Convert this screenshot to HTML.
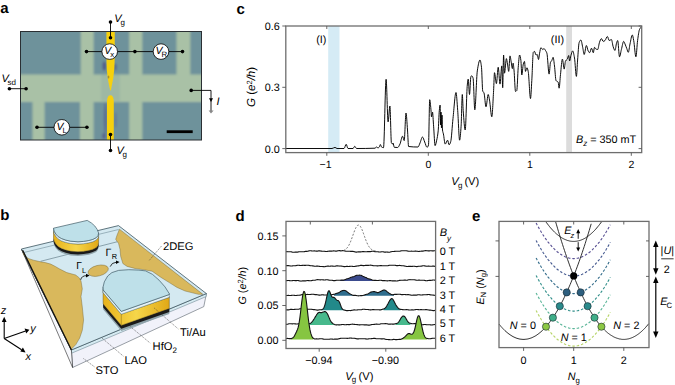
<!DOCTYPE html><html><head><meta charset="utf-8"><style>html,body{margin:0;padding:0;background:#fff;width:675px;height:385px;overflow:hidden}svg{display:block}text{font-family:"Liberation Sans",sans-serif;text-rendering:geometricPrecision}</style></head><body>
<svg width="675" height="385" viewBox="0 0 675 385">
<defs><filter id="bl" x="-5%" y="-5%" width="110%" height="110%"><feGaussianBlur stdDeviation="0.9"/></filter><filter id="bl2" x="-20%" y="-5%" width="140%" height="110%"><feGaussianBlur stdDeviation="0.45"/></filter><clipPath id="aclip"><rect x="20.5" y="31.5" width="181" height="108.5"/></clipPath><marker id="ah" viewBox="0 0 10 10" refX="8" refY="5" markerWidth="5" markerHeight="5" orient="auto"><path d="M0,0L10,5L0,10z" fill="#000"/></marker></defs>
<text x="0.2" y="13.3" font-size="15" font-weight="bold">a</text>
<g clip-path="url(#aclip)"><g filter="url(#bl)">
<rect x="15" y="25" width="195" height="120" fill="#6e929b"/>
<rect x="15" y="74.5" width="195" height="27.5" fill="#a9c1a6"/>
<rect x="80.8" y="25" width="12.799999999999997" height="52" fill="#a9c1a6"/>
<rect x="129.2" y="25" width="13.100000000000023" height="52" fill="#a9c1a6"/>
<rect x="176.5" y="25" width="13.800000000000011" height="52" fill="#a9c1a6"/>
<rect x="32.5" y="100" width="12.100000000000001" height="45" fill="#a9c1a6"/>
<rect x="80" y="100" width="13.599999999999994" height="45" fill="#a9c1a6"/>
<rect x="129.2" y="100" width="13.100000000000023" height="45" fill="#a9c1a6"/>
<ellipse cx="104.3" cy="66" rx="1.8" ry="4.5" fill="#4f4f86" opacity="0.85"/>
<ellipse cx="115.3" cy="67" rx="1.5" ry="3.5" fill="#4f4f86" opacity="0.6"/>
<ellipse cx="105.3" cy="118" rx="1.6" ry="16" fill="#4f4f86" opacity="0.55"/>
<ellipse cx="104" cy="136" rx="1.8" ry="3" fill="#4f4f86" opacity="0.7"/>
<ellipse cx="115.6" cy="120" rx="1.2" ry="8" fill="#4f4f86" opacity="0.35"/>
<ellipse cx="109" cy="62" rx="5" ry="3" fill="#4f4f86" opacity="0.0"/>
<rect x="101" y="74" width="19" height="27" fill="#7f9ea0" opacity="0.25"/>
</g><g filter="url(#bl2)">
<path d="M106.4,30 L114.8,30 L114.6,62 L114.2,70 L113.3,78 L111.9,85 L110.9,90.5 L110.2,90.5 L109,85 L107.7,78 L106.8,70 L106.5,62 Z" fill="#f6d010"/>
<path d="M107,141 L113.8,141 L113.8,101 Q113.4,95.3 110.4,95.3 Q107.4,95.3 107,101 Z" fill="#f6d010"/>
<ellipse cx="108.5" cy="77" rx="0.9" ry="1.6" fill="#7a6a40" opacity="0.6"/>
</g></g>
<rect x="20.5" y="31.5" width="181" height="108.5" fill="none" stroke="#2a2f33" stroke-width="1"/>
<rect x="166.7" y="130.3" width="26" height="2.8" fill="#000"/>
<g stroke="#000" stroke-width="0.9" fill="none">
<line x1="110.5" y1="22.1" x2="110.5" y2="37.8"/>
<line x1="110.5" y1="134.6" x2="110.5" y2="150.5"/>
<line x1="86.5" y1="51.6" x2="182.5" y2="51.6"/>
<line x1="37" y1="127.3" x2="86.9" y2="127.3"/>
<line x1="9.4" y1="88.7" x2="26.1" y2="88.7"/>
<polyline points="191.2,90.4 211,90.4 211,111"/>
</g>
<circle cx="110.5" cy="22.1" r="1.8" fill="#000"/>
<circle cx="110.5" cy="37.8" r="1.8" fill="#000"/>
<circle cx="110.5" cy="134.6" r="1.8" fill="#000"/>
<circle cx="110.5" cy="150.5" r="1.8" fill="#000"/>
<circle cx="86.5" cy="51.6" r="1.8" fill="#000"/>
<circle cx="134.9" cy="51.6" r="1.8" fill="#000"/>
<circle cx="182.5" cy="51.6" r="1.8" fill="#000"/>
<circle cx="37" cy="127.3" r="1.8" fill="#000"/>
<circle cx="86.9" cy="127.3" r="1.8" fill="#000"/>
<circle cx="9.4" cy="88.7" r="1.8" fill="#000"/>
<circle cx="26.1" cy="88.7" r="1.8" fill="#000"/>
<circle cx="191.2" cy="90.4" r="1.8" fill="#000"/>
<path d="M209,98.2 L213,98.2 L211,101.9 Z" fill="#000"/>
<path d="M208.6,110.6 L213.6,110.6 L211,113.5 Z" fill="#888"/>
<circle cx="109.7" cy="51.6" r="7.8" fill="#fff" stroke="#000" stroke-width="0.8"/>
<text x="104.3" y="54.300000000000004" font-size="10.5" font-style="italic">V</text>
<text x="110.3" y="57.2" font-size="7.8">x</text>
<circle cx="161" cy="51.6" r="7.8" fill="#fff" stroke="#000" stroke-width="0.8"/>
<text x="155.6" y="54.300000000000004" font-size="10.5" font-style="italic">V</text>
<text x="161.6" y="57.2" font-size="7.8">R</text>
<circle cx="61.8" cy="127.3" r="7.8" fill="#fff" stroke="#000" stroke-width="0.8"/>
<text x="56.4" y="130.0" font-size="10.5" font-style="italic">V</text>
<text x="62.4" y="132.9" font-size="7.8">L</text>
<text x="114.3" y="21.8" font-size="11" font-style="italic">V</text><text x="120.5" y="24.6" font-size="8">g</text>
<text x="116.4" y="154.2" font-size="11" font-style="italic">V</text><text x="122.60000000000001" y="157.0" font-size="8">g</text>
<text x="1.6" y="81.7" font-size="11" font-style="italic">V</text><text x="7.4" y="84.7" font-size="8">sd</text>
<text x="216.5" y="105" font-size="11" font-style="italic">I</text>
<text x="236.5" y="13.5" font-size="15" font-weight="bold">c</text>
<rect x="328.2" y="26" width="11.3" height="126" fill="#d5ebf5"/>
<rect x="566.2" y="26" width="5.8" height="126" fill="#dcdcdc"/>
<path d="M286.00,148.50 C301.33,148.50 316.67,148.50 332.00,148.50 C333.00,148.50 334.00,147.40 335.00,147.40 C335.67,147.40 336.33,148.50 337.00,148.50 C339.33,148.50 341.67,148.50 344.00,148.50 C344.73,148.50 345.47,144.30 346.20,144.30 C346.80,144.30 347.40,148.50 348.00,148.50 C349.67,148.50 351.33,148.50 353.00,148.50 C353.60,148.50 354.20,146.30 354.80,146.30 C355.37,146.30 355.93,148.50 356.50,148.50 C362.67,148.50 368.83,148.47 375.00,148.20 C375.53,148.18 376.07,147.00 376.60,147.00 C377.07,147.00 377.53,148.00 378.00,148.00 C378.50,148.00 379.00,147.21 379.50,146.50 C379.80,146.07 380.10,144.50 380.40,144.50 C380.77,144.50 381.13,146.76 381.50,147.00 C382.17,147.44 382.83,147.70 383.50,147.70 C384.37,147.70 385.23,79.30 386.10,79.30 C386.77,79.30 387.43,121.90 388.10,121.90 C388.70,121.90 389.30,106.00 389.90,106.00 C390.40,106.00 390.90,141.80 391.40,142.80 C391.77,143.53 392.13,144.00 392.50,144.00 C392.67,144.00 392.83,143.00 393.00,143.00 C393.43,143.00 393.87,147.24 394.30,147.30 C395.40,147.45 396.50,147.50 397.60,147.50 C398.40,147.50 399.20,145.59 400.00,144.00 C400.83,142.35 401.67,136.20 402.50,136.20 C403.07,136.20 403.63,140.60 404.20,140.60 C404.80,140.60 405.40,113.00 406.00,113.00 C406.50,113.00 407.00,123.50 407.50,130.00 C407.87,134.77 408.23,146.45 408.60,146.50 C411.73,146.95 414.87,147.00 418.00,147.00 C418.67,147.00 419.33,144.45 420.00,143.00 C420.83,141.19 421.67,137.00 422.50,137.00 C423.23,137.00 423.97,140.32 424.70,142.00 C425.47,143.75 426.23,147.30 427.00,147.30 C427.50,147.30 428.00,146.53 428.50,145.00 C428.90,143.78 429.30,99.70 429.70,99.70 C430.10,99.70 430.50,105.00 430.90,109.00 C431.10,111.00 431.30,116.80 431.50,116.80 C431.83,116.80 432.17,112.10 432.50,112.10 C432.87,112.10 433.23,121.48 433.60,126.20 C434.10,132.64 434.60,145.60 435.10,145.60 C435.63,145.60 436.17,142.55 436.70,140.20 C437.20,138.00 437.70,135.59 438.20,130.80 C438.57,127.29 438.93,114.18 439.30,110.60 C439.57,107.99 439.83,105.10 440.10,105.10 C440.27,105.10 440.43,125.00 440.60,125.00 C440.73,125.00 440.87,112.00 441.00,112.00 C441.17,112.00 441.33,128.00 441.50,128.00 C441.67,128.00 441.83,115.00 442.00,115.00 C442.17,115.00 442.33,128.64 442.50,130.00 C442.80,132.45 443.10,132.45 443.40,133.90 C444.00,136.80 444.60,144.10 445.20,144.10 C446.00,144.10 446.80,140.20 447.60,140.20 C448.10,140.20 448.60,144.80 449.10,144.80 C449.63,144.80 450.17,143.37 450.70,141.70 C451.47,139.30 452.23,125.57 453.00,118.40 C454.00,109.04 455.00,92.50 456.00,92.50 C456.57,92.50 457.13,103.46 457.70,110.60 C458.33,118.58 458.97,140.20 459.60,140.20 C460.10,140.20 460.60,133.22 461.10,126.20 C461.50,120.58 461.90,94.50 462.30,94.50 C462.60,94.50 462.90,106.68 463.20,110.60 C463.87,119.31 464.53,130.00 465.20,130.00 C465.90,130.00 466.60,91.56 467.30,85.00 C467.60,82.19 467.90,79.10 468.20,79.10 C468.63,79.10 469.07,94.50 469.50,94.50 C469.97,94.50 470.43,76.87 470.90,76.40 C471.20,76.10 471.50,75.90 471.80,75.90 C472.23,75.90 472.67,76.85 473.10,78.20 C473.67,79.97 474.23,109.80 474.80,109.80 C475.63,109.80 476.47,76.28 477.30,70.90 C478.20,65.09 479.10,60.00 480.00,60.00 C480.50,60.00 481.00,63.31 481.50,67.30 C481.90,70.49 482.30,89.69 482.70,90.90 C483.13,92.21 483.57,91.91 484.00,93.00 C484.67,94.67 485.33,106.80 486.00,106.80 C486.73,106.80 487.47,94.50 488.20,94.50 C488.63,94.50 489.07,97.73 489.50,100.00 C490.27,104.01 491.03,116.80 491.80,116.80 C492.40,116.80 493.00,100.75 493.60,90.50 C493.90,85.37 494.20,72.70 494.50,72.70 C495.13,72.70 495.77,83.60 496.40,83.60 C497.00,83.60 497.60,67.30 498.20,67.30 C498.80,67.30 499.40,84.10 500.00,84.10 C500.60,84.10 501.20,65.90 501.80,65.90 C502.10,65.90 502.40,87.70 502.70,87.70 C503.00,87.70 503.30,55.00 503.60,55.00 C503.90,55.00 504.20,73.20 504.50,73.20 C505.13,73.20 505.77,58.60 506.40,58.60 C506.77,58.60 507.13,62.00 507.50,64.00 C507.90,66.18 508.30,71.40 508.70,71.40 C509.13,71.40 509.57,55.90 510.00,55.90 C510.40,55.90 510.80,59.89 511.20,62.00 C511.60,64.11 512.00,68.60 512.40,68.60 C512.63,68.60 512.87,63.20 513.10,63.20 C513.40,63.20 513.70,67.11 514.00,70.00 C514.50,74.82 515.00,91.40 515.50,91.40 C515.93,91.40 516.37,91.07 516.80,90.50 C517.27,89.89 517.73,73.14 518.20,67.70 C518.67,62.26 519.13,55.00 519.60,55.00 C520.03,55.00 520.47,57.49 520.90,60.50 C521.20,62.58 521.50,75.00 521.80,75.00 C522.30,75.00 522.80,65.79 523.30,64.10 C523.70,62.75 524.10,61.40 524.50,61.40 C524.83,61.40 525.17,71.40 525.50,71.40 C525.97,71.40 526.43,67.70 526.90,67.70 C527.33,67.70 527.77,69.52 528.20,71.40 C528.97,74.73 529.73,98.60 530.50,98.60 C530.93,98.60 531.37,87.41 531.80,80.50 C532.30,72.53 532.80,53.00 533.30,52.30 C533.70,51.74 534.10,51.40 534.50,51.40 C535.00,51.40 535.50,55.00 536.00,55.00 C536.43,55.00 536.87,54.60 537.30,54.60 C537.70,54.60 538.10,59.50 538.50,59.50 C538.87,59.50 539.23,54.99 539.60,53.20 C540.03,51.08 540.47,47.70 540.90,47.70 C541.50,47.70 542.10,49.50 542.70,49.50 C543.13,49.50 543.57,48.60 544.00,48.60 C544.50,48.60 545.00,49.73 545.50,50.50 C545.97,51.22 546.43,51.77 546.90,53.20 C547.63,55.44 548.37,74.10 549.10,74.10 C549.57,74.10 550.03,63.40 550.50,62.30 C550.93,61.28 551.37,61.27 551.80,60.50 C552.23,59.73 552.67,57.30 553.10,57.30 C553.57,57.30 554.03,62.48 554.50,66.00 C555.00,69.77 555.50,79.70 556.00,80.50 C556.73,81.67 557.47,81.10 558.20,82.30 C558.50,82.79 558.80,88.20 559.10,88.20 C559.57,88.20 560.03,78.66 560.50,74.50 C561.13,68.86 561.77,59.10 562.40,59.10 C563.00,59.10 563.60,69.10 564.20,69.10 C564.63,69.10 565.07,61.81 565.50,61.00 C566.10,59.87 566.70,60.01 567.30,59.10 C567.77,58.39 568.23,55.50 568.70,55.50 C569.00,55.50 569.30,61.00 569.60,61.00 C570.03,61.00 570.47,56.90 570.90,55.50 C571.50,53.56 572.10,50.90 572.70,50.90 C573.30,50.90 573.90,54.65 574.50,58.00 C575.13,61.54 575.77,76.40 576.40,76.40 C576.80,76.40 577.20,65.02 577.60,60.00 C578.10,53.73 578.60,44.06 579.10,42.70 C579.70,41.07 580.30,40.00 580.90,40.00 C581.50,40.00 582.10,44.66 582.70,47.30 C583.20,49.50 583.70,54.50 584.20,54.50 C584.93,54.50 585.67,45.50 586.40,45.50 C587.00,45.50 587.60,49.98 588.20,51.00 C588.67,51.80 589.13,52.70 589.60,52.70 C590.23,52.70 590.87,48.20 591.50,48.20 C592.10,48.20 592.70,52.70 593.30,52.70 C593.70,52.70 594.10,47.30 594.50,47.30 C594.93,47.30 595.37,48.80 595.80,49.00 C596.43,49.29 597.07,49.50 597.70,49.50 C598.30,49.50 598.90,43.88 599.50,42.30 C600.13,40.64 600.77,38.60 601.40,38.60 C602.00,38.60 602.60,41.40 603.20,41.40 C603.80,41.40 604.40,40.95 605.00,40.50 C605.80,39.90 606.60,36.50 607.40,36.50 C608.00,36.50 608.60,40.50 609.20,40.50 C609.93,40.50 610.67,39.50 611.40,39.50 C612.00,39.50 612.60,45.16 613.20,46.80 C613.80,48.44 614.40,50.50 615.00,50.50 C615.50,50.50 616.00,44.72 616.50,43.20 C616.90,41.99 617.30,40.50 617.70,40.50 C618.30,40.50 618.90,56.80 619.50,56.80 C620.13,56.80 620.77,51.83 621.40,49.50 C622.17,46.68 622.93,41.40 623.70,41.40 C624.13,41.40 624.57,43.03 625.00,44.00 C625.60,45.34 626.20,47.09 626.80,48.60 C627.30,49.85 627.80,52.30 628.30,52.30 C628.87,52.30 629.43,46.48 630.00,44.00 C630.77,40.65 631.53,35.00 632.30,35.00 C632.77,35.00 633.23,38.16 633.70,40.50 C634.43,44.18 635.17,56.80 635.90,56.80 C636.47,56.80 637.03,44.61 637.60,40.50 C638.23,35.91 638.87,30.95 639.50,29.50 C640.13,28.05 640.77,27.70 641.40,26.80" fill="none" stroke="#000" stroke-width="0.95" stroke-linejoin="round"/>
<rect x="285.8" y="26" width="355.9" height="126.6" fill="none" stroke="#6e6e6e" stroke-width="1.3"/>
<g stroke="#555" stroke-width="0.9">
<line x1="326.8" y1="152.6" x2="326.8" y2="155.8"/><line x1="326.8" y1="26" x2="326.8" y2="29"/>
<line x1="428.3" y1="152.6" x2="428.3" y2="155.8"/><line x1="428.3" y1="26" x2="428.3" y2="29"/>
<line x1="529.8" y1="152.6" x2="529.8" y2="155.8"/><line x1="529.8" y1="26" x2="529.8" y2="29"/>
<line x1="631.3" y1="152.6" x2="631.3" y2="155.8"/><line x1="631.3" y1="26" x2="631.3" y2="29"/>
<line x1="282.3" y1="148.6" x2="285.8" y2="148.6"/><line x1="638.6" y1="148.6" x2="641.7" y2="148.6"/>
<line x1="282.3" y1="87.3" x2="285.8" y2="87.3"/><line x1="638.6" y1="87.3" x2="641.7" y2="87.3"/>
<line x1="282.3" y1="26.0" x2="285.8" y2="26.0"/><line x1="638.6" y1="26.0" x2="641.7" y2="26.0"/>
</g>
<text x="279.8" y="152.5" font-size="10.8" text-anchor="end">0.0</text>
<text x="279.8" y="91.2" font-size="10.8" text-anchor="end">0.3</text>
<text x="279.8" y="29.9" font-size="10.8" text-anchor="end">0.6</text>
<text x="325.5" y="167.5" font-size="10.5" text-anchor="middle">−1</text>
<text x="428.3" y="167.5" font-size="10.5" text-anchor="middle">0</text>
<text x="529.8" y="167.5" font-size="10.5" text-anchor="middle">1</text>
<text x="631.3" y="167.5" font-size="10.5" text-anchor="middle">2</text>
<text x="451.3" y="184.8" font-size="11.2" font-style="italic">V</text><text x="457.9" y="187.6" font-size="8">g</text><text x="464.4" y="184.8" font-size="11.2">(V)</text>
<text transform="translate(255,107.1) rotate(-90)" font-size="11.6"><tspan font-style="italic">G</tspan> (<tspan font-style="italic">e</tspan><tspan font-size="7.5" dy="-3.5">2</tspan><tspan dy="3.5" font-style="italic">/h</tspan>)</text>
<text x="316.2" y="42.8" font-size="10.8">(I)</text>
<text x="550.8" y="42.8" font-size="10.8">(II)</text>
<text x="575.9" y="143.4" font-size="10.85"><tspan font-style="italic">B</tspan><tspan font-size="8" dy="2.8" font-style="italic">z</tspan><tspan dy="-2.8"> = 350 mT</tspan></text>
<text x="0.2" y="220" font-size="15" font-weight="bold">b</text>
<polygon points="71.4,350.0 206.4,293.6 203.8,306.6 72.6,367.5" fill="#f1f2fa" stroke="#55606a" stroke-width="0.6"/>
<polygon points="71.4,350.0 206.4,293.6 206.1,296.6 71.6,353.2" fill="#d6ebf2" stroke="#5a7480" stroke-width="0.5"/>
<polygon points="21.4,249.0 71.4,350.0 72.6,367.5" fill="#f7f8fc" stroke="#222" stroke-width="0.6"/>
<polygon points="21.4,249.0 118.5,225.6 206.4,293.6 71.4,350.0" fill="#d4e9f1" stroke="#3d5560" stroke-width="0.8"/>
<polyline points="23.5,252.6 118.2,229.6 202.5,294.6" fill="none" stroke="#6f8c97" stroke-width="0.6"/>
<polygon points="22.9,250.9 23.5,254.5 24.2,255.6 28.9,258.7 33.6,260.2 40.6,261.8 45.3,262.6 50.7,264.1 55.4,266.5 59.3,268.8 66.8,272.6 72.0,274.0 75.7,275.0 79.3,277.9 81.0,281.0 82.3,288.8 81.0,296.6 82.3,307.0 83.6,320.0 82.3,330.3 79.7,338.0 75.8,344.6 72.0,348.5 71.4,350.0" fill="#d9b85c" stroke="#6b5a2a" stroke-width="0.4"/>
<line x1="22.599999999999998" y1="250.2" x2="71.4" y2="350" stroke="#111" stroke-width="1.3"/>
<line x1="40.6" y1="261.3" x2="117.5" y2="241.7" stroke="#56717c" stroke-width="0.6"/>
<polygon points="119.5,229.2 117.1,235.0 115.7,239.3 118.6,243.6 120.0,249.3 120.7,256.4 122.9,263.6 127.1,266.4 132.9,267.9 135.0,268.5 143.0,269.6 152.1,271.2 160.7,277.2 169.3,282.6 177.0,287.4 185.1,291.0 198.4,294.3 202.8,294.2" fill="#d9b85c" stroke="#6b5a2a" stroke-width="0.4"/>
<ellipse cx="98.2" cy="270.7" rx="10.4" ry="5.3" transform="rotate(-14 98.2 270.7)" fill="#d9b85c" stroke="#6b5a2a" stroke-width="0.4"/>
<polygon points="53.5,238.2 54.2,241.2 55.8,244.0 58.2,246.6 61.6,248.6 65.8,250.1 70.7,251.2 78.0,251.8 83.5,251.4 88.9,250.5 92.8,249.4 96.2,247.7 98.0,245.6 98.6,243.0 98.6,247.2 98.0,249.8 96.2,251.9 92.8,253.6 88.9,254.7 83.5,255.6 78.0,256.0 70.7,255.4 65.8,254.3 61.6,252.8 58.2,250.8 55.8,248.2 54.2,245.4 53.5,242.4" fill="#8fa3aa" stroke="none" stroke-width="0"/>
<polygon points="53.5,238.0 54.2,241.0 55.8,243.8 58.2,246.4 61.6,248.4 65.8,249.9 70.7,251.0 78.0,251.6 83.5,251.2 88.9,250.3 92.8,249.2 96.2,247.5 98.0,245.4 98.6,242.8 98.6,245.7 98.0,248.3 96.2,250.4 92.8,252.1 88.9,253.2 83.5,254.1 78.0,254.5 70.7,253.9 65.8,252.8 61.6,251.3 58.2,249.3 55.8,246.7 54.2,243.9 53.5,240.9" fill="#1a1a1a" stroke="none" stroke-width="0"/>
<defs><linearGradient id="gg" x1="0" y1="0" x2="0" y2="1"><stop offset="0" stop-color="#f7e06a"/><stop offset="0.5" stop-color="#f0c42a"/><stop offset="1" stop-color="#d9a514"/></linearGradient><linearGradient id="gg2" x1="0" y1="0" x2="1" y2="0"><stop offset="0" stop-color="#e7b21c"/><stop offset="0.5" stop-color="#f6d64a"/><stop offset="1" stop-color="#e0a816"/></linearGradient></defs>
<polygon points="53.5,230.5 54.2,233.5 55.8,236.3 58.2,238.9 61.6,240.9 65.8,242.4 70.7,243.5 78.0,244.1 83.5,243.7 88.9,242.8 92.8,241.7 96.2,240.0 98.0,237.9 98.6,235.3 98.6,243.0 98.0,245.6 96.2,247.7 92.8,249.4 88.9,250.5 83.5,251.4 78.0,251.8 70.7,251.2 65.8,250.1 61.6,248.6 58.2,246.6 55.8,244.0 54.2,241.2 53.5,238.2" fill="url(#gg2)" stroke="#4a3a10" stroke-width="0.4"/>
<polygon points="53.5,228.2 54.2,231.2 55.8,234.0 58.2,236.6 61.6,238.6 65.8,240.1 70.7,241.2 78.0,241.8 83.5,241.4 88.9,240.5 92.8,239.4 96.2,237.7 98.0,235.6 98.6,233.0 98.6,235.3 98.0,237.9 96.2,240.0 92.8,241.7 88.9,242.8 83.5,243.7 78.0,244.1 70.7,243.5 65.8,242.4 61.6,240.9 58.2,238.9 55.8,236.3 54.2,233.5 53.5,230.5" fill="#e4f2f6" stroke="#4a6470" stroke-width="0.4"/>
<path d="M53.5,228.2 L87.2,220.4 Q96.6,225.2 98.6,233 L98.0,235.6 96.2,237.7 92.8,239.4 88.9,240.5 83.5,241.4 78.0,241.8 70.7,241.2 65.8,240.1 61.6,238.6 58.2,236.6 55.8,234.0 54.2,231.2 53.5,228.2 Z" fill="#bee0e9" stroke="#3e5964" stroke-width="0.7"/>
<polygon points="103.1,300.9 103.2,304.0 121.3,325.4 169.3,308.5 169.3,307.7 169.3,313.2 169.3,314.0 121.3,330.9 103.2,309.5 103.1,306.4" fill="#8fa3aa" stroke="none" stroke-width="0"/>
<polygon points="103.1,300.7 103.2,303.8 121.3,325.2 169.3,308.3 169.3,307.5 169.3,311.1 169.3,311.9 121.3,328.8 103.2,307.4 103.1,304.3" fill="#1a1a1a" stroke="none" stroke-width="0"/>
<polygon points="103.1,289.7 103.2,292.8 121.3,314.2 169.3,297.3 169.3,296.5 169.3,307.7 169.3,308.5 121.3,325.4 103.2,304.0 103.1,300.9" fill="url(#gg2)" stroke="#4a3a10" stroke-width="0.4"/>
<polygon points="103.1,286.9 103.2,290.0 121.3,311.4 169.3,294.5 169.3,293.7 169.3,296.5 169.3,297.3 121.3,314.2 103.2,292.8 103.1,289.7" fill="#e4f2f6" stroke="#4a6470" stroke-width="0.4"/>
<polygon points="103.2,290.0 121.3,311.4 169.3,294.5 169.3,293.7 165.0,286.9 159.1,280.2 152.4,274.3 145.6,270.9 138.9,270.1 128.8,269.7 118.6,270.4 111.9,272.6 107.7,276.0 104.3,281.9 103.1,286.9" fill="#bee0e9" stroke="#3e5964" stroke-width="0.7"/>
<line x1="121.3" y1="314.2" x2="121.3" y2="325.4" stroke="#6a5010" stroke-width="0.4"/>
<text x="76.2" y="269.4" font-size="10.2">Γ</text><text x="82" y="273.2" font-size="7.4">L</text>
<text x="105.5" y="255.8" font-size="10.6">Γ</text><text x="111.8" y="259.4" font-size="7.4">R</text>
<path d="M80.7,279.8 Q81.5,275.8 86.5,275.6" fill="none" stroke="#000" stroke-width="0.8"/><path d="M86,273.8 L89.6,275.6 L86,277.4 Z" fill="#000"/>
<path d="M110.2,266.6 Q111.5,262.6 116.4,262.2" fill="none" stroke="#000" stroke-width="0.8"/><path d="M116,260.4 L119.6,262.1 L116,263.9 Z" fill="#000"/>
<text x="163" y="250.2" font-size="11.2">2DEG</text>
<text x="180" y="335.6" font-size="11.2">Ti/Au</text>
<text x="124.5" y="364" font-size="11.2">LAO</text>
<text x="95.6" y="373.6" font-size="11.2">STO</text>
<text x="152.6" y="350.2" font-size="11.2">HfO<tspan font-size="8" dy="2.6">2</tspan></text>
<g stroke="#333" stroke-width="0.55" stroke-dasharray="1.2,0.9" fill="none">
<line x1="161.5" y1="246" x2="149" y2="260.7"/>
<line x1="154.2" y1="308" x2="178.3" y2="329"/>
<line x1="130.4" y1="326.7" x2="150.2" y2="343.1"/>
<line x1="101.9" y1="338" x2="123.4" y2="356.2"/>
<line x1="83.4" y1="358.5" x2="95.1" y2="367.3"/>
</g>
<g stroke="#000" stroke-width="1.1" fill="none"><line x1="4.2" y1="338.5" x2="4.2" y2="321"/><line x1="4.2" y1="338.5" x2="25.6" y2="331.1"/><line x1="4.2" y1="338.5" x2="21.6" y2="349.8"/></g>
<path d="M1.8,322 L4.2,316.8 L6.6,322 Z" fill="#000"/>
<path d="M24.6,328.6 L29.4,329.8 L26.2,333.4 Z" fill="#000"/>
<path d="M22.9,347.6 L25.6,352.4 L20.3,351.6 Z" fill="#000"/>
<text x="0.8" y="313.9" font-size="11" font-style="italic">z</text>
<text x="30.2" y="331.8" font-size="11" font-style="italic">y</text>
<text x="25.6" y="359.5" font-size="11" font-style="italic">x</text>
<text x="235.6" y="221" font-size="15" font-weight="bold">d</text>
<polyline points="286.0,251.6 286.5,251.6 287.0,251.6 287.5,251.7 288.0,251.7 288.5,251.7 289.0,251.7 289.5,251.7 290.0,251.7 290.5,251.7 291.0,251.8 291.5,251.9 292.0,252.0 292.5,252.2 293.0,252.2 293.5,252.2 294.0,252.2 294.5,252.2 295.0,252.1 295.5,252.1 296.0,252.1 296.5,252.1 297.0,252.1 297.5,252.1 298.0,252.0 298.5,251.9 299.0,251.8 299.5,251.7 300.0,251.7 300.5,251.7 301.0,251.7 301.5,251.8 302.0,251.8 302.5,251.8 303.0,251.8 303.5,251.7 304.0,251.7 304.5,251.6 305.0,251.5 305.5,251.4 306.0,251.4 306.5,251.4 307.0,251.4 307.5,251.3 308.0,251.2 308.5,251.0 309.0,250.9 309.5,250.8 310.0,250.8 310.5,250.8 311.0,250.8 311.5,250.9 312.0,251.0 312.5,251.0 313.0,251.0 313.5,251.0 314.0,250.9 314.5,250.9 315.0,251.0 315.5,251.0 316.0,251.1 316.5,251.1 317.0,251.1 317.5,251.1 318.0,251.0 318.5,250.9 319.0,250.9 319.5,250.8 320.0,250.9 320.5,251.0 321.0,251.1 321.5,251.1 322.0,251.2 322.5,251.2 323.0,251.3 323.5,251.3 324.0,251.3 324.5,251.3 325.0,251.4 325.5,251.5 326.0,251.5 326.5,251.5 327.0,251.5 327.5,251.4 328.0,251.3 328.5,251.2 329.0,251.1 329.5,251.1 330.0,251.1 330.5,251.1 331.0,251.1 331.5,251.1 332.0,251.1 332.5,251.0 333.0,251.0 333.5,250.9 334.0,250.9 334.5,251.0 335.0,251.0 335.5,251.1 336.0,251.1 336.5,251.1 337.0,251.0 337.5,250.9 338.0,250.8 338.5,250.7 339.0,250.6 339.5,250.6 340.0,250.6 340.5,250.7 341.0,250.7 341.5,250.7 342.0,250.7 342.5,250.6 343.0,250.6 343.5,250.7 344.0,250.7 344.5,250.9 345.0,251.0 345.5,251.1 346.0,251.2 346.5,251.3 347.0,251.2 347.5,251.2 348.0,251.2 348.5,251.2 349.0,251.2 349.5,251.3 350.0,251.3 350.5,251.4 351.0,251.4 351.5,251.4 352.0,251.4 352.5,251.4 353.0,251.4 353.5,251.5 354.0,251.6 354.5,251.8 355.0,251.9 355.5,252.0 356.0,252.1 356.5,252.1 357.0,252.0 357.5,252.0 358.0,251.9 358.5,251.9 359.0,251.9 359.5,251.9 360.0,251.9 360.5,251.9 361.0,251.9 361.5,251.8 362.0,251.7 362.5,251.6 363.0,251.6 363.5,251.6 364.0,251.6 364.5,251.7 365.0,251.8 365.5,251.8 366.0,251.8 366.5,251.8 367.0,251.7 367.5,251.6 368.0,251.6 368.5,251.6 369.0,251.6 369.5,251.6 370.0,251.6 370.5,251.6 371.0,251.5 371.5,251.4 372.0,251.3 372.5,251.3 373.0,251.3 373.5,251.3 374.0,251.4 374.5,251.6 375.0,251.6 375.5,251.7 376.0,251.7 376.5,251.7 377.0,251.7 377.5,251.8 378.0,251.8 378.5,251.9 379.0,252.0 379.5,252.0 380.0,252.0 380.5,252.0 381.0,251.9 381.5,251.8 382.0,251.8 382.5,251.8 383.0,251.8 383.5,251.9 384.0,252.0 384.5,252.1 385.0,252.1 385.5,252.1 386.0,252.1 386.5,252.0 387.0,252.0 387.5,252.1 388.0,252.1 388.5,252.2 389.0,252.2 389.5,252.2 390.0,252.1 390.5,251.9 391.0,251.8 391.5,251.7 392.0,251.5 392.5,251.5 393.0,251.5 393.5,251.5 394.0,251.5 394.5,251.4 395.0,251.4 395.5,251.3 396.0,251.2 396.5,251.2 397.0,251.2 397.5,251.2 398.0,251.3 398.5,251.3 399.0,251.3 399.5,251.3 400.0,251.2 400.5,251.0 401.0,250.9 401.5,250.8 402.0,250.8 402.5,250.8 403.0,250.8 403.5,250.8 404.0,250.8 404.5,250.8 405.0,250.8 405.5,250.8 406.0,250.8 406.5,250.8 407.0,250.9 407.5,251.0 408.0,251.1 408.5,251.2 409.0,251.3 409.5,251.3 410.0,251.3 410.5,251.2 411.0,251.2 411.5,251.1 412.0,251.2 412.5,251.2 413.0,251.2 413.5,251.3 414.0,251.2 414.5,251.2 415.0,251.1 415.5,251.1 416.0,251.1 416.5,251.2 417.0,251.2 417.5,251.3 418.0,251.4 418.5,251.5 419.0,251.5 419.5,251.4 420.0,251.3 420.5,251.3 421.0,251.2 421.5,251.1 422.0,251.1 422.5,251.1 423.0,251.1 423.5,251.0 424.0,250.9 424.5,250.8 425.0,250.7 425.5,250.6 426.0,250.6 426.5,250.7 427.0,250.7 427.5,250.8 428.0,250.9 428.5,250.9 429.0,250.9 429.5,250.9 430.0,250.8 430.5,250.8 431.0,250.8 431.5,250.8 432.0,250.9 432.5,250.9 433.0,250.9 433.5,250.9 434.0,250.8 434.5,250.7 435.0,250.7 435.5,250.7" fill="none" stroke="#141414" stroke-width="1.1" stroke-linejoin="round"/>
<polyline points="286.0,265.6 286.5,265.6 287.0,265.6 287.5,265.6 288.0,265.6 288.5,265.6 289.0,265.7 289.5,265.8 290.0,265.9 290.5,266.0 291.0,266.0 291.5,266.0 292.0,266.0 292.5,265.9 293.0,265.8 293.5,265.7 294.0,265.7 294.5,265.7 295.0,265.7 295.5,265.7 296.0,265.6 296.5,265.5 297.0,265.4 297.5,265.3 298.0,265.3 298.5,265.3 299.0,265.3 299.5,265.4 300.0,265.5 300.5,265.5 301.0,265.5 301.5,265.5 302.0,265.4 302.5,265.4 303.0,265.3 303.5,265.3 304.0,265.4 304.5,265.4 305.0,265.4 305.5,265.4 306.0,265.3 306.5,265.2 307.0,265.2 307.5,265.2 308.0,265.2 308.5,265.3 309.0,265.4 309.5,265.5 310.0,265.6 310.5,265.7 311.0,265.8 311.5,265.8 312.0,265.8 312.5,265.9 313.0,265.9 313.5,266.0 314.0,266.1 314.5,266.2 315.0,266.2 315.5,266.2 316.0,266.2 316.5,266.1 317.0,266.1 317.5,266.1 318.0,266.1 318.5,266.2 319.0,266.3 319.5,266.4 320.0,266.5 320.5,266.5 321.0,266.5 321.5,266.5 322.0,266.5 322.5,266.5 323.0,266.6 323.5,266.6 324.0,266.7 324.5,266.7 325.0,266.6 325.5,266.5 326.0,266.4 326.5,266.3 327.0,266.2 327.5,266.1 328.0,266.1 328.5,266.1 329.0,266.2 329.5,266.2 330.0,266.2 330.5,266.1 331.0,266.1 331.5,266.0 332.0,266.0 332.5,266.1 333.0,266.1 333.5,266.2 334.0,266.2 334.5,266.2 335.0,266.2 335.5,266.1 336.0,266.0 336.5,265.9 337.0,265.9 337.5,265.9 338.0,265.9 338.5,266.0 339.0,266.0 339.5,266.0 340.0,266.1 340.5,266.0 341.0,266.0 341.5,266.1 342.0,266.2 342.5,266.3 343.0,266.4 343.5,266.5 344.0,266.6 344.5,266.6 345.0,266.6 345.5,266.5 346.0,266.5 346.5,266.4 347.0,266.4 347.5,266.4 348.0,266.5 348.5,266.5 349.0,266.5 349.5,266.4 350.0,266.4 350.5,266.3 351.0,266.3 351.5,266.3 352.0,266.3 352.5,266.4 353.0,266.5 353.5,266.5 354.0,266.5 354.5,266.5 355.0,266.4 355.5,266.2 356.0,266.1 356.5,266.1 357.0,266.0 357.5,266.0 358.0,265.9 358.5,265.9 359.0,265.8 359.5,265.7 360.0,265.5 360.5,265.4 361.0,265.4 361.5,265.4 362.0,265.4 362.5,265.5 363.0,265.6 363.5,265.6 364.0,265.6 364.5,265.5 365.0,265.5 365.5,265.4 366.0,265.4 366.5,265.4 367.0,265.4 367.5,265.4 368.0,265.4 368.5,265.4 369.0,265.3 369.5,265.2 370.0,265.2 370.5,265.1 371.0,265.2 371.5,265.3 372.0,265.4 372.5,265.5 373.0,265.6 373.5,265.7 374.0,265.7 374.5,265.7 375.0,265.7 375.5,265.7 376.0,265.8 376.5,265.8 377.0,265.9 377.5,265.9 378.0,265.9 378.5,265.8 379.0,265.8 379.5,265.7 380.0,265.6 380.5,265.6 381.0,265.6 381.5,265.6 382.0,265.7 382.5,265.8 383.0,265.8 383.5,265.8 384.0,265.7 384.5,265.7 385.0,265.7 385.5,265.7 386.0,265.7 386.5,265.8 387.0,265.8 387.5,265.7 388.0,265.7 388.5,265.5 389.0,265.4 389.5,265.3 390.0,265.2 390.5,265.2 391.0,265.2 391.5,265.2 392.0,265.3 392.5,265.3 393.0,265.3 393.5,265.3 394.0,265.2 394.5,265.2 395.0,265.3 395.5,265.4 396.0,265.5 396.5,265.6 397.0,265.6 397.5,265.6 398.0,265.6 398.5,265.5 399.0,265.5 399.5,265.4 400.0,265.5 400.5,265.5 401.0,265.6 401.5,265.7 402.0,265.7 402.5,265.8 403.0,265.8 403.5,265.8 404.0,265.9 404.5,266.0 405.0,266.1 405.5,266.2 406.0,266.3 406.5,266.5 407.0,266.5 407.5,266.5 408.0,266.5 408.5,266.4 409.0,266.4 409.5,266.4 410.0,266.4 410.5,266.4 411.0,266.4 411.5,266.5 412.0,266.4 412.5,266.4 413.0,266.3 413.5,266.3 414.0,266.3 414.5,266.3 415.0,266.4 415.5,266.5 416.0,266.5 416.5,266.6 417.0,266.6 417.5,266.5 418.0,266.4 418.5,266.3 419.0,266.2 419.5,266.2 420.0,266.2 420.5,266.2 421.0,266.1 421.5,266.1 422.0,266.0 422.5,265.9 423.0,265.8 423.5,265.8 424.0,265.8 424.5,265.9 425.0,265.9 425.5,266.1 426.0,266.1 426.5,266.2 427.0,266.2 427.5,266.2 428.0,266.1 428.5,266.1 429.0,266.1 429.5,266.2 430.0,266.2 430.5,266.3 431.0,266.3 431.5,266.2 432.0,266.2 432.5,266.1 433.0,266.1 433.5,266.1 434.0,266.1 434.5,266.2 435.0,266.4 435.5,266.5" fill="none" stroke="#141414" stroke-width="1.1" stroke-linejoin="round"/>
<polygon points="340.0,280.2 340.5,280.2 341.0,280.1 341.5,280.1 342.0,280.1 342.5,280.1 343.0,280.1 343.5,280.1 344.0,280.0 344.5,279.8 345.0,279.7 345.5,279.4 346.0,279.2 346.5,279.0 347.0,278.8 347.5,278.7 348.0,278.6 348.5,278.4 349.0,278.2 349.5,278.0 350.0,277.8 350.5,277.5 351.0,277.3 351.5,277.2 352.0,277.0 352.5,276.9 353.0,276.8 353.5,276.7 354.0,276.5 354.5,276.2 355.0,276.0 355.5,275.7 356.0,275.5 356.5,275.4 357.0,275.3 357.5,275.3 358.0,275.2 358.5,275.2 359.0,275.2 359.5,275.1 360.0,275.2 360.5,275.2 361.0,275.3 361.5,275.5 362.0,275.8 362.5,276.1 363.0,276.4 363.5,276.6 364.0,276.8 364.5,277.0 365.0,277.2 365.5,277.4 366.0,277.6 366.5,277.8 367.0,278.1 367.5,278.4 368.0,278.6 368.5,278.7 369.0,278.9 369.5,279.0 370.0,279.1 370.5,279.2 371.0,279.4 371.5,279.6 372.0,279.9 372.5,280.1 373.0,280.2 373.5,280.3 374.0,280.4 374.5,280.4 375.0,280.4 375.0,281.1 340.0,281.1" fill="#3b4b8e"/>
<polyline points="286.0,280.7 286.5,280.6 287.0,280.6 287.5,280.5 288.0,280.5 288.5,280.5 289.0,280.5 289.5,280.6 290.0,280.7 290.5,280.8 291.0,280.8 291.5,280.8 292.0,280.7 292.5,280.6 293.0,280.5 293.5,280.5 294.0,280.5 294.5,280.5 295.0,280.6 295.5,280.6 296.0,280.6 296.5,280.6 297.0,280.5 297.5,280.5 298.0,280.5 298.5,280.6 299.0,280.7 299.5,280.9 300.0,281.0 300.5,281.0 301.0,281.1 301.5,281.0 302.0,281.0 302.5,280.9 303.0,280.9 303.5,280.9 304.0,280.9 304.5,280.9 305.0,280.9 305.5,280.9 306.0,280.8 306.5,280.7 307.0,280.6 307.5,280.5 308.0,280.5 308.5,280.6 309.0,280.6 309.5,280.7 310.0,280.7 310.5,280.7 311.0,280.7 311.5,280.6 312.0,280.5 312.5,280.4 313.0,280.3 313.5,280.3 314.0,280.3 314.5,280.3 315.0,280.2 315.5,280.1 316.0,279.9 316.5,279.8 317.0,279.7 317.5,279.6 318.0,279.6 318.5,279.7 319.0,279.8 319.5,279.8 320.0,279.9 320.5,279.9 321.0,279.8 321.5,279.8 322.0,279.8 322.5,279.8 323.0,279.9 323.5,279.9 324.0,280.0 324.5,280.0 325.0,280.0 325.5,279.9 326.0,279.8 326.5,279.8 327.0,279.8 327.5,279.8 328.0,279.9 328.5,280.0 329.0,280.1 329.5,280.2 330.0,280.2 330.5,280.3 331.0,280.3 331.5,280.3 332.0,280.3 332.5,280.4 333.0,280.5 333.5,280.6 334.0,280.6 334.5,280.6 335.0,280.6 335.5,280.5 336.0,280.4 336.5,280.3 337.0,280.2 337.5,280.2 338.0,280.3 338.5,280.3 339.0,280.3 339.5,280.3 340.0,280.2 340.5,280.2 341.0,280.1 341.5,280.1 342.0,280.1 342.5,280.1 343.0,280.1 343.5,280.1 344.0,280.0 344.5,279.8 345.0,279.7 345.5,279.4 346.0,279.2 346.5,279.0 347.0,278.8 347.5,278.7 348.0,278.6 348.5,278.4 349.0,278.2 349.5,278.0 350.0,277.8 350.5,277.5 351.0,277.3 351.5,277.2 352.0,277.0 352.5,276.9 353.0,276.8 353.5,276.7 354.0,276.5 354.5,276.2 355.0,276.0 355.5,275.7 356.0,275.5 356.5,275.4 357.0,275.3 357.5,275.3 358.0,275.2 358.5,275.2 359.0,275.2 359.5,275.1 360.0,275.2 360.5,275.2 361.0,275.3 361.5,275.5 362.0,275.8 362.5,276.1 363.0,276.4 363.5,276.6 364.0,276.8 364.5,277.0 365.0,277.2 365.5,277.4 366.0,277.6 366.5,277.8 367.0,278.1 367.5,278.4 368.0,278.6 368.5,278.7 369.0,278.9 369.5,279.0 370.0,279.1 370.5,279.2 371.0,279.4 371.5,279.6 372.0,279.9 372.5,280.1 373.0,280.2 373.5,280.3 374.0,280.4 374.5,280.4 375.0,280.4 375.5,280.4 376.0,280.4 376.5,280.5 377.0,280.5 377.5,280.5 378.0,280.5 378.5,280.5 379.0,280.4 379.5,280.3 380.0,280.2 380.5,280.2 381.0,280.3 381.5,280.4 382.0,280.5 382.5,280.6 383.0,280.6 383.5,280.6 384.0,280.6 384.5,280.6 385.0,280.6 385.5,280.7 386.0,280.8 386.5,280.8 387.0,280.9 387.5,280.9 388.0,280.8 388.5,280.8 389.0,280.7 389.5,280.6 390.0,280.6 390.5,280.6 391.0,280.7 391.5,280.8 392.0,280.9 392.5,280.9 393.0,280.9 393.5,280.9 394.0,280.9 394.5,280.9 395.0,280.9 395.5,280.9 396.0,281.0 396.5,281.0 397.0,281.0 397.5,280.9 398.0,280.8 398.5,280.7 399.0,280.5 399.5,280.4 400.0,280.4 400.5,280.3 401.0,280.3 401.5,280.3 402.0,280.3 402.5,280.3 403.0,280.2 403.5,280.2 404.0,280.1 404.5,280.1 405.0,280.1 405.5,280.1 406.0,280.2 406.5,280.2 407.0,280.2 407.5,280.1 408.0,280.0 408.5,279.8 409.0,279.7 409.5,279.7 410.0,279.6 410.5,279.7 411.0,279.7 411.5,279.7 412.0,279.7 412.5,279.7 413.0,279.7 413.5,279.7 414.0,279.7 414.5,279.8 415.0,279.9 415.5,280.0 416.0,280.1 416.5,280.2 417.0,280.2 417.5,280.2 418.0,280.2 418.5,280.1 419.0,280.1 419.5,280.1 420.0,280.2 420.5,280.2 421.0,280.3 421.5,280.3 422.0,280.3 422.5,280.2 423.0,280.2 423.5,280.2 424.0,280.3 424.5,280.4 425.0,280.5 425.5,280.6 426.0,280.7 426.5,280.7 427.0,280.7 427.5,280.6 428.0,280.5 428.5,280.5 429.0,280.4 429.5,280.4 430.0,280.4 430.5,280.4 431.0,280.4 431.5,280.3 432.0,280.2 432.5,280.1 433.0,280.0 433.5,280.0 434.0,280.0 434.5,280.1 435.0,280.2 435.5,280.3" fill="none" stroke="#141414" stroke-width="1.1" stroke-linejoin="round"/>
<polygon points="334.0,294.3 334.5,294.2 335.0,294.0 335.5,293.8 336.0,293.6 336.5,293.4 337.0,293.3 337.5,293.1 338.0,293.0 338.5,292.8 339.0,292.5 339.5,292.2 340.0,291.9 340.5,291.5 341.0,291.2 341.5,290.9 342.0,290.7 342.5,290.6 343.0,290.5 343.5,290.5 344.0,290.4 344.5,290.5 345.0,290.5 345.5,290.7 346.0,290.9 346.5,291.2 347.0,291.6 347.5,292.1 348.0,292.5 348.5,292.9 349.0,293.3 349.5,293.6 350.0,293.9 350.5,294.1 351.0,294.4 351.5,294.6 352.0,294.9 352.5,295.1 353.0,295.2 353.5,295.4 354.0,295.4 354.5,295.4 355.0,295.4 355.5,295.4 356.0,295.5 356.5,295.5 357.0,295.7 357.5,295.8 358.0,295.8 358.5,295.9 359.0,295.8 359.0,295.7 334.0,295.7" fill="#2f6d8d"/>
<polygon points="362.0,295.6 362.5,295.5 363.0,295.5 363.5,295.3 364.0,295.2 364.5,295.0 365.0,294.8 365.5,294.6 366.0,294.5 366.5,294.3 367.0,294.2 367.5,294.1 368.0,293.9 368.5,293.6 369.0,293.3 369.5,292.9 370.0,292.6 370.5,292.3 371.0,292.1 371.5,292.0 372.0,291.8 372.5,291.8 373.0,291.7 373.5,291.6 374.0,291.6 374.5,291.6 375.0,291.7 375.5,291.9 376.0,292.1 376.5,292.3 377.0,292.5 377.5,292.6 378.0,292.6 378.5,292.5 379.0,292.3 379.5,292.1 380.0,291.8 380.5,291.6 381.0,291.3 381.5,291.0 382.0,290.8 382.5,290.5 383.0,290.3 383.5,290.1 384.0,290.0 384.5,290.0 385.0,290.1 385.5,290.4 386.0,290.7 386.5,291.1 387.0,291.6 387.5,292.0 388.0,292.4 388.5,292.8 389.0,293.1 389.5,293.4 390.0,293.7 390.5,294.0 391.0,294.3 391.5,294.5 392.0,294.6 392.5,294.7 393.0,294.7 393.5,294.6 394.0,294.5 394.0,295.7 362.0,295.7" fill="#2f6d8d"/>
<polyline points="286.0,295.5 286.5,295.5 287.0,295.5 287.5,295.5 288.0,295.4 288.5,295.4 289.0,295.5 289.5,295.5 290.0,295.5 290.5,295.5 291.0,295.5 291.5,295.4 292.0,295.3 292.5,295.3 293.0,295.2 293.5,295.3 294.0,295.3 294.5,295.4 295.0,295.5 295.5,295.5 296.0,295.5 296.5,295.5 297.0,295.4 297.5,295.3 298.0,295.3 298.5,295.2 299.0,295.2 299.5,295.2 300.0,295.1 300.5,295.1 301.0,294.9 301.5,294.8 302.0,294.6 302.5,294.5 303.0,294.5 303.5,294.5 304.0,294.5 304.5,294.6 305.0,294.6 305.5,294.6 306.0,294.6 306.5,294.5 307.0,294.5 307.5,294.4 308.0,294.5 308.5,294.5 309.0,294.5 309.5,294.5 310.0,294.5 310.5,294.5 311.0,294.4 311.5,294.3 312.0,294.2 312.5,294.2 313.0,294.2 313.5,294.3 314.0,294.4 314.5,294.5 315.0,294.6 315.5,294.6 316.0,294.6 316.5,294.6 317.0,294.7 317.5,294.8 318.0,294.9 318.5,295.0 319.0,295.1 319.5,295.1 320.0,295.1 320.5,295.0 321.0,295.0 321.5,294.9 322.0,294.8 322.5,294.8 323.0,294.9 323.5,294.9 324.0,295.0 324.5,295.0 325.0,295.0 325.5,295.0 326.0,295.0 326.5,295.0 327.0,295.0 327.5,295.0 328.0,295.1 328.5,295.2 329.0,295.2 329.5,295.2 330.0,295.1 330.5,295.0 331.0,294.8 331.5,294.7 332.0,294.6 332.5,294.5 333.0,294.5 333.5,294.4 334.0,294.3 334.5,294.2 335.0,294.0 335.5,293.8 336.0,293.6 336.5,293.4 337.0,293.3 337.5,293.1 338.0,293.0 338.5,292.8 339.0,292.5 339.5,292.2 340.0,291.9 340.5,291.5 341.0,291.2 341.5,290.9 342.0,290.7 342.5,290.6 343.0,290.5 343.5,290.5 344.0,290.4 344.5,290.5 345.0,290.5 345.5,290.7 346.0,290.9 346.5,291.2 347.0,291.6 347.5,292.1 348.0,292.5 348.5,292.9 349.0,293.3 349.5,293.6 350.0,293.9 350.5,294.1 351.0,294.4 351.5,294.6 352.0,294.9 352.5,295.1 353.0,295.2 353.5,295.4 354.0,295.4 354.5,295.4 355.0,295.4 355.5,295.4 356.0,295.5 356.5,295.5 357.0,295.7 357.5,295.8 358.0,295.8 358.5,295.9 359.0,295.8 359.5,295.8 360.0,295.7 360.5,295.6 361.0,295.6 361.5,295.6 362.0,295.6 362.5,295.5 363.0,295.5 363.5,295.3 364.0,295.2 364.5,295.0 365.0,294.8 365.5,294.6 366.0,294.5 366.5,294.3 367.0,294.2 367.5,294.1 368.0,293.9 368.5,293.6 369.0,293.3 369.5,292.9 370.0,292.6 370.5,292.3 371.0,292.1 371.5,292.0 372.0,291.8 372.5,291.8 373.0,291.7 373.5,291.6 374.0,291.6 374.5,291.6 375.0,291.7 375.5,291.9 376.0,292.1 376.5,292.3 377.0,292.5 377.5,292.6 378.0,292.6 378.5,292.5 379.0,292.3 379.5,292.1 380.0,291.8 380.5,291.6 381.0,291.3 381.5,291.0 382.0,290.8 382.5,290.5 383.0,290.3 383.5,290.1 384.0,290.0 384.5,290.0 385.0,290.1 385.5,290.4 386.0,290.7 386.5,291.1 387.0,291.6 387.5,292.0 388.0,292.4 388.5,292.8 389.0,293.1 389.5,293.4 390.0,293.7 390.5,294.0 391.0,294.3 391.5,294.5 392.0,294.6 392.5,294.7 393.0,294.7 393.5,294.6 394.0,294.5 394.5,294.4 395.0,294.4 395.5,294.4 396.0,294.4 396.5,294.4 397.0,294.4 397.5,294.3 398.0,294.3 398.5,294.2 399.0,294.2 399.5,294.2 400.0,294.3 400.5,294.4 401.0,294.5 401.5,294.6 402.0,294.6 402.5,294.6 403.0,294.6 403.5,294.5 404.0,294.5 404.5,294.5 405.0,294.5 405.5,294.6 406.0,294.6 406.5,294.7 407.0,294.7 407.5,294.6 408.0,294.6 408.5,294.6 409.0,294.7 409.5,294.7 410.0,294.9 410.5,295.0 411.0,295.1 411.5,295.2 412.0,295.2 412.5,295.2 413.0,295.1 413.5,295.1 414.0,295.1 414.5,295.1 415.0,295.1 415.5,295.1 416.0,295.1 416.5,295.1 417.0,295.0 417.5,294.9 418.0,294.8 418.5,294.7 419.0,294.7 419.5,294.8 420.0,294.9 420.5,295.0 421.0,295.0 421.5,295.0 422.0,295.0 422.5,294.9 423.0,294.9 423.5,294.8 424.0,294.8 424.5,294.8 425.0,294.8 425.5,294.8 426.0,294.8 426.5,294.7 427.0,294.6 427.5,294.6 428.0,294.5 428.5,294.5 429.0,294.5 429.5,294.6 430.0,294.8 430.5,294.9 431.0,294.9 431.5,295.0 432.0,295.0 432.5,295.0 433.0,295.1 433.5,295.1 434.0,295.2 434.5,295.3 435.0,295.4 435.5,295.4" fill="none" stroke="#141414" stroke-width="1.1" stroke-linejoin="round"/>
<polygon points="320.5,309.8 321.0,309.7 321.5,309.7 322.0,309.6 322.5,309.3 323.0,308.9 323.5,308.3 324.0,307.4 324.5,306.1 325.0,304.6 325.5,302.7 326.0,300.5 326.5,298.2 327.0,295.8 327.5,293.7 328.0,292.0 328.5,291.0 329.0,290.7 329.5,291.2 330.0,292.2 330.5,293.6 331.0,295.0 331.5,296.1 332.0,296.9 332.5,297.3 333.0,297.4 333.5,297.4 334.0,297.4 334.5,297.7 335.0,298.1 335.5,298.8 336.0,299.4 336.5,299.9 337.0,300.2 337.5,300.4 338.0,300.6 338.5,300.8 339.0,301.4 339.5,302.3 340.0,303.5 340.5,304.9 341.0,306.3 341.5,307.4 342.0,308.4 342.5,309.1 343.0,309.5 343.5,309.8 344.0,310.0 344.0,310.3 320.5,310.3" fill="#22898a"/>
<polygon points="383.5,309.0 384.0,308.8 384.5,308.5 385.0,308.2 385.5,307.7 386.0,307.1 386.5,306.3 387.0,305.5 387.5,304.6 388.0,303.7 388.5,302.7 389.0,301.8 389.5,300.9 390.0,300.1 390.5,299.4 391.0,298.9 391.5,298.6 392.0,298.6 392.5,298.9 393.0,299.5 393.5,300.3 394.0,301.2 394.5,302.2 395.0,303.2 395.5,304.2 396.0,305.1 396.5,305.9 397.0,306.6 397.5,307.2 398.0,307.8 398.5,308.3 399.0,308.8 399.5,309.1 400.0,309.3 400.5,309.4 400.5,310.3 383.5,310.3" fill="#22898a"/>
<polyline points="286.0,309.8 286.5,309.9 287.0,309.9 287.5,309.9 288.0,309.9 288.5,309.9 289.0,309.8 289.5,309.7 290.0,309.5 290.5,309.4 291.0,309.4 291.5,309.4 292.0,309.4 292.5,309.5 293.0,309.5 293.5,309.5 294.0,309.5 294.5,309.4 295.0,309.4 295.5,309.3 296.0,309.3 296.5,309.3 297.0,309.3 297.5,309.3 298.0,309.3 298.5,309.2 299.0,309.1 299.5,308.9 300.0,308.8 300.5,308.7 301.0,308.7 301.5,308.7 302.0,308.8 302.5,308.9 303.0,308.9 303.5,308.9 304.0,308.9 304.5,308.9 305.0,308.9 305.5,309.0 306.0,309.1 306.5,309.2 307.0,309.3 307.5,309.3 308.0,309.3 308.5,309.3 309.0,309.3 309.5,309.2 310.0,309.2 310.5,309.2 311.0,309.2 311.5,309.3 312.0,309.4 312.5,309.5 313.0,309.5 313.5,309.6 314.0,309.6 314.5,309.6 315.0,309.7 315.5,309.8 316.0,309.9 316.5,310.0 317.0,310.1 317.5,310.1 318.0,310.1 318.5,310.0 319.0,309.9 319.5,309.8 320.0,309.8 320.5,309.8 321.0,309.7 321.5,309.7 322.0,309.6 322.5,309.3 323.0,308.9 323.5,308.3 324.0,307.4 324.5,306.1 325.0,304.6 325.5,302.7 326.0,300.5 326.5,298.2 327.0,295.8 327.5,293.7 328.0,292.0 328.5,291.0 329.0,290.7 329.5,291.2 330.0,292.2 330.5,293.6 331.0,295.0 331.5,296.1 332.0,296.9 332.5,297.3 333.0,297.4 333.5,297.4 334.0,297.4 334.5,297.7 335.0,298.1 335.5,298.8 336.0,299.4 336.5,299.9 337.0,300.2 337.5,300.4 338.0,300.6 338.5,300.8 339.0,301.4 339.5,302.3 340.0,303.5 340.5,304.9 341.0,306.3 341.5,307.4 342.0,308.4 342.5,309.1 343.0,309.5 343.5,309.8 344.0,310.0 344.5,310.1 345.0,310.3 345.5,310.4 346.0,310.5 346.5,310.6 347.0,310.6 347.5,310.6 348.0,310.6 348.5,310.5 349.0,310.5 349.5,310.5 350.0,310.5 350.5,310.6 351.0,310.5 351.5,310.4 352.0,310.3 352.5,310.2 353.0,310.1 353.5,310.0 354.0,309.9 354.5,309.9 355.0,310.0 355.5,310.0 356.0,310.0 356.5,310.0 357.0,310.0 357.5,309.9 358.0,309.8 358.5,309.8 359.0,309.8 359.5,309.8 360.0,309.8 360.5,309.8 361.0,309.8 361.5,309.7 362.0,309.5 362.5,309.4 363.0,309.3 363.5,309.3 364.0,309.3 364.5,309.3 365.0,309.4 365.5,309.5 366.0,309.5 366.5,309.5 367.0,309.5 367.5,309.5 368.0,309.5 368.5,309.6 369.0,309.7 369.5,309.8 370.0,309.9 370.5,309.9 371.0,309.9 371.5,309.8 372.0,309.7 372.5,309.6 373.0,309.6 373.5,309.6 374.0,309.6 374.5,309.7 375.0,309.7 375.5,309.8 376.0,309.8 376.5,309.7 377.0,309.7 377.5,309.7 378.0,309.7 378.5,309.8 379.0,309.8 379.5,309.9 380.0,309.9 380.5,309.9 381.0,309.8 381.5,309.6 382.0,309.5 382.5,309.3 383.0,309.1 383.5,309.0 384.0,308.8 384.5,308.5 385.0,308.2 385.5,307.7 386.0,307.1 386.5,306.3 387.0,305.5 387.5,304.6 388.0,303.7 388.5,302.7 389.0,301.8 389.5,300.9 390.0,300.1 390.5,299.4 391.0,298.9 391.5,298.6 392.0,298.6 392.5,298.9 393.0,299.5 393.5,300.3 394.0,301.2 394.5,302.2 395.0,303.2 395.5,304.2 396.0,305.1 396.5,305.9 397.0,306.6 397.5,307.2 398.0,307.8 398.5,308.3 399.0,308.8 399.5,309.1 400.0,309.3 400.5,309.4 401.0,309.4 401.5,309.5 402.0,309.5 402.5,309.6 403.0,309.6 403.5,309.7 404.0,309.7 404.5,309.8 405.0,309.7 405.5,309.7 406.0,309.6 406.5,309.6 407.0,309.6 407.5,309.7 408.0,309.8 408.5,309.9 409.0,310.0 409.5,310.0 410.0,310.0 410.5,310.0 411.0,310.0 411.5,309.9 412.0,309.9 412.5,309.9 413.0,310.0 413.5,310.0 414.0,309.9 414.5,309.8 415.0,309.7 415.5,309.6 416.0,309.5 416.5,309.5 417.0,309.5 417.5,309.5 418.0,309.6 418.5,309.6 419.0,309.7 419.5,309.7 420.0,309.7 420.5,309.6 421.0,309.6 421.5,309.6 422.0,309.7 422.5,309.8 423.0,309.8 423.5,309.8 424.0,309.8 424.5,309.8 425.0,309.7 425.5,309.6 426.0,309.6 426.5,309.6 427.0,309.7 427.5,309.8 428.0,309.9 428.5,310.0 429.0,310.0 429.5,310.1 430.0,310.1 430.5,310.1 431.0,310.2 431.5,310.3 432.0,310.4 432.5,310.5 433.0,310.6 433.5,310.6 434.0,310.6 434.5,310.5 435.0,310.4 435.5,310.3" fill="none" stroke="#141414" stroke-width="1.1" stroke-linejoin="round"/>
<polygon points="309.5,323.6 310.0,323.4 310.5,323.2 311.0,322.9 311.5,322.4 312.0,321.9 312.5,321.3 313.0,320.6 313.5,319.8 314.0,319.1 314.5,318.3 315.0,317.4 315.5,316.6 316.0,315.8 316.5,314.9 317.0,314.2 317.5,313.5 318.0,313.0 318.5,312.6 319.0,312.5 319.5,312.4 320.0,312.5 320.5,312.6 321.0,312.6 321.5,312.6 322.0,312.5 322.5,312.3 323.0,312.1 323.5,311.9 324.0,311.7 324.5,311.6 325.0,311.6 325.5,311.8 326.0,312.1 326.5,312.5 327.0,313.2 327.5,314.0 328.0,315.1 328.5,316.2 329.0,317.4 329.5,318.6 330.0,319.7 330.5,320.7 331.0,321.6 331.5,322.2 332.0,322.8 332.5,323.2 333.0,323.6 333.5,323.9 334.0,324.2 334.5,324.5 335.0,324.7 335.5,324.8 336.0,324.9 336.0,324.9 309.5,324.9" fill="#47b98c"/>
<polygon points="395.5,323.7 396.0,323.6 396.5,323.5 397.0,323.4 397.5,323.1 398.0,322.7 398.5,322.2 399.0,321.5 399.5,320.7 400.0,319.9 400.5,319.0 401.0,318.1 401.5,317.4 402.0,316.8 402.5,316.3 403.0,316.1 403.5,316.0 404.0,316.1 404.5,316.5 405.0,317.0 405.5,317.7 406.0,318.6 406.5,319.4 407.0,320.3 407.5,321.1 408.0,321.8 408.5,322.3 409.0,322.7 409.5,323.0 410.0,323.2 410.5,323.3 410.5,324.9 395.5,324.9" fill="#47b98c"/>
<polyline points="286.0,324.4 286.5,324.4 287.0,324.3 287.5,324.2 288.0,324.1 288.5,323.9 289.0,323.8 289.5,323.7 290.0,323.7 290.5,323.7 291.0,323.8 291.5,323.8 292.0,323.9 292.5,323.9 293.0,323.8 293.5,323.8 294.0,323.8 294.5,323.8 295.0,323.9 295.5,323.9 296.0,324.0 296.5,324.0 297.0,324.0 297.5,324.0 298.0,323.9 298.5,323.8 299.0,323.7 299.5,323.7 300.0,323.8 300.5,323.9 301.0,324.0 301.5,324.0 302.0,324.1 302.5,324.1 303.0,324.1 303.5,324.1 304.0,324.1 304.5,324.2 305.0,324.3 305.5,324.4 306.0,324.4 306.5,324.4 307.0,324.3 307.5,324.2 308.0,324.0 308.5,323.9 309.0,323.7 309.5,323.6 310.0,323.4 310.5,323.2 311.0,322.9 311.5,322.4 312.0,321.9 312.5,321.3 313.0,320.6 313.5,319.8 314.0,319.1 314.5,318.3 315.0,317.4 315.5,316.6 316.0,315.8 316.5,314.9 317.0,314.2 317.5,313.5 318.0,313.0 318.5,312.6 319.0,312.5 319.5,312.4 320.0,312.5 320.5,312.6 321.0,312.6 321.5,312.6 322.0,312.5 322.5,312.3 323.0,312.1 323.5,311.9 324.0,311.7 324.5,311.6 325.0,311.6 325.5,311.8 326.0,312.1 326.5,312.5 327.0,313.2 327.5,314.0 328.0,315.1 328.5,316.2 329.0,317.4 329.5,318.6 330.0,319.7 330.5,320.7 331.0,321.6 331.5,322.2 332.0,322.8 332.5,323.2 333.0,323.6 333.5,323.9 334.0,324.2 334.5,324.5 335.0,324.7 335.5,324.8 336.0,324.9 336.5,324.9 337.0,324.9 337.5,324.8 338.0,324.8 338.5,324.9 339.0,324.9 339.5,324.9 340.0,324.9 340.5,324.8 341.0,324.7 341.5,324.6 342.0,324.5 342.5,324.5 343.0,324.5 343.5,324.5 344.0,324.6 344.5,324.7 345.0,324.7 345.5,324.7 346.0,324.7 346.5,324.6 347.0,324.6 347.5,324.5 348.0,324.5 348.5,324.6 349.0,324.6 349.5,324.6 350.0,324.5 350.5,324.5 351.0,324.3 351.5,324.2 352.0,324.2 352.5,324.1 353.0,324.2 353.5,324.3 354.0,324.4 354.5,324.4 355.0,324.5 355.5,324.5 356.0,324.5 356.5,324.5 357.0,324.6 357.5,324.6 358.0,324.7 358.5,324.8 359.0,324.9 359.5,324.9 360.0,324.9 360.5,324.8 361.0,324.8 361.5,324.7 362.0,324.7 362.5,324.7 363.0,324.7 363.5,324.8 364.0,324.9 364.5,324.9 365.0,324.9 365.5,324.9 366.0,324.9 366.5,324.9 367.0,324.9 367.5,325.0 368.0,325.1 368.5,325.1 369.0,325.1 369.5,325.1 370.0,325.0 370.5,324.9 371.0,324.7 371.5,324.6 372.0,324.5 372.5,324.5 373.0,324.5 373.5,324.5 374.0,324.4 374.5,324.4 375.0,324.3 375.5,324.2 376.0,324.1 376.5,324.1 377.0,324.1 377.5,324.2 378.0,324.2 378.5,324.3 379.0,324.2 379.5,324.2 380.0,324.1 380.5,323.9 381.0,323.8 381.5,323.8 382.0,323.7 382.5,323.7 383.0,323.8 383.5,323.8 384.0,323.7 384.5,323.7 385.0,323.6 385.5,323.6 386.0,323.6 386.5,323.7 387.0,323.8 387.5,323.9 388.0,324.0 388.5,324.1 389.0,324.2 389.5,324.1 390.0,324.1 390.5,324.1 391.0,324.0 391.5,324.0 392.0,324.1 392.5,324.1 393.0,324.1 393.5,324.1 394.0,324.1 394.5,324.0 395.0,323.8 395.5,323.7 396.0,323.6 396.5,323.5 397.0,323.4 397.5,323.1 398.0,322.7 398.5,322.2 399.0,321.5 399.5,320.7 400.0,319.9 400.5,319.0 401.0,318.1 401.5,317.4 402.0,316.8 402.5,316.3 403.0,316.1 403.5,316.0 404.0,316.1 404.5,316.5 405.0,317.0 405.5,317.7 406.0,318.6 406.5,319.4 407.0,320.3 407.5,321.1 408.0,321.8 408.5,322.3 409.0,322.7 409.5,323.0 410.0,323.2 410.5,323.3 411.0,323.5 411.5,323.6 412.0,323.7 412.5,323.8 413.0,323.8 413.5,323.7 414.0,323.6 414.5,323.6 415.0,323.5 415.5,323.6 416.0,323.7 416.5,323.8 417.0,323.9 417.5,324.0 418.0,324.1 418.5,324.1 419.0,324.2 419.5,324.2 420.0,324.3 420.5,324.4 421.0,324.5 421.5,324.6 422.0,324.7 422.5,324.7 423.0,324.7 423.5,324.6 424.0,324.5 424.5,324.5 425.0,324.5 425.5,324.5 426.0,324.6 426.5,324.7 427.0,324.7 427.5,324.8 428.0,324.8 428.5,324.8 429.0,324.8 429.5,324.8 430.0,324.8 430.5,324.9 431.0,324.9 431.5,325.0 432.0,325.0 432.5,324.9 433.0,324.8 433.5,324.7 434.0,324.6 434.5,324.5 435.0,324.5 435.5,324.4" fill="none" stroke="#141414" stroke-width="1.1" stroke-linejoin="round"/>
<polygon points="291.0,338.6 291.5,338.5 292.0,338.3 292.5,338.1 293.0,337.7 293.5,337.2 294.0,336.6 294.5,335.8 295.0,334.8 295.5,333.8 296.0,332.7 296.5,331.7 297.0,330.6 297.5,329.4 298.0,327.9 298.5,326.0 299.0,323.5 299.5,320.4 300.0,316.8 300.5,312.7 301.0,308.4 301.5,304.1 302.0,300.1 302.5,296.6 303.0,293.9 303.5,292.1 304.0,291.4 304.5,291.7 305.0,293.2 305.5,295.6 306.0,298.8 306.5,302.6 307.0,306.9 307.5,311.4 308.0,315.9 308.5,320.1 309.0,323.8 309.5,327.1 310.0,329.9 310.5,332.1 311.0,333.9 311.5,335.4 312.0,336.5 312.5,337.4 313.0,338.0 313.0,339.5 291.0,339.5" fill="#86c541"/>
<polygon points="401.0,339.3 401.5,339.1 402.0,338.8 402.5,338.5 403.0,338.2 403.5,337.8 404.0,337.5 404.5,337.1 405.0,336.7 405.5,336.2 406.0,335.7 406.5,335.1 407.0,334.6 407.5,334.1 408.0,333.7 408.5,333.6 409.0,333.5 409.5,333.6 410.0,333.8 410.5,334.0 411.0,334.2 411.5,334.3 412.0,334.2 412.5,334.0 413.0,333.4 413.5,332.6 414.0,331.5 414.5,330.0 415.0,328.1 415.5,326.0 416.0,323.7 416.5,321.3 417.0,319.2 417.5,317.4 418.0,316.2 418.5,315.7 419.0,315.8 419.5,316.7 420.0,318.2 420.5,320.1 421.0,322.4 421.5,324.7 422.0,327.1 422.5,329.4 423.0,331.5 423.5,333.3 424.0,334.9 424.5,336.1 425.0,337.0 425.5,337.6 426.0,338.0 426.5,338.2 427.0,338.4 427.0,339.5 401.0,339.5" fill="#86c541"/>
<polyline points="286.0,338.6 286.5,338.5 287.0,338.5 287.5,338.4 288.0,338.5 288.5,338.5 289.0,338.6 289.5,338.6 290.0,338.6 290.5,338.6 291.0,338.6 291.5,338.5 292.0,338.3 292.5,338.1 293.0,337.7 293.5,337.2 294.0,336.6 294.5,335.8 295.0,334.8 295.5,333.8 296.0,332.7 296.5,331.7 297.0,330.6 297.5,329.4 298.0,327.9 298.5,326.0 299.0,323.5 299.5,320.4 300.0,316.8 300.5,312.7 301.0,308.4 301.5,304.1 302.0,300.1 302.5,296.6 303.0,293.9 303.5,292.1 304.0,291.4 304.5,291.7 305.0,293.2 305.5,295.6 306.0,298.8 306.5,302.6 307.0,306.9 307.5,311.4 308.0,315.9 308.5,320.1 309.0,323.8 309.5,327.1 310.0,329.9 310.5,332.1 311.0,333.9 311.5,335.4 312.0,336.5 312.5,337.4 313.0,338.0 313.5,338.5 314.0,338.8 314.5,338.9 315.0,339.0 315.5,339.0 316.0,338.9 316.5,338.9 317.0,338.9 317.5,339.0 318.0,339.0 318.5,339.0 319.0,338.9 319.5,338.8 320.0,338.8 320.5,338.7 321.0,338.7 321.5,338.7 322.0,338.8 322.5,338.9 323.0,339.0 323.5,339.1 324.0,339.2 324.5,339.2 325.0,339.2 325.5,339.2 326.0,339.2 326.5,339.2 327.0,339.3 327.5,339.3 328.0,339.3 328.5,339.3 329.0,339.3 329.5,339.2 330.0,339.1 330.5,339.0 331.0,339.0 331.5,339.0 332.0,339.1 332.5,339.1 333.0,339.2 333.5,339.2 334.0,339.2 334.5,339.1 335.0,339.1 335.5,339.1 336.0,339.0 336.5,339.1 337.0,339.1 337.5,339.1 338.0,339.0 338.5,338.9 339.0,338.8 339.5,338.6 340.0,338.5 340.5,338.4 341.0,338.3 341.5,338.3 342.0,338.3 342.5,338.3 343.0,338.3 343.5,338.3 344.0,338.2 344.5,338.2 345.0,338.2 345.5,338.2 346.0,338.2 346.5,338.3 347.0,338.4 347.5,338.4 348.0,338.3 348.5,338.3 349.0,338.2 349.5,338.1 350.0,338.0 350.5,338.0 351.0,338.1 351.5,338.1 352.0,338.2 352.5,338.2 353.0,338.3 353.5,338.3 354.0,338.3 354.5,338.3 355.0,338.4 355.5,338.5 356.0,338.6 356.5,338.8 357.0,338.9 357.5,338.9 358.0,338.9 358.5,338.9 359.0,338.8 359.5,338.7 360.0,338.7 360.5,338.7 361.0,338.8 361.5,338.8 362.0,338.8 362.5,338.8 363.0,338.8 363.5,338.8 364.0,338.7 364.5,338.7 365.0,338.8 365.5,338.9 366.0,338.9 366.5,339.0 367.0,339.1 367.5,339.0 368.0,339.0 368.5,338.9 369.0,338.8 369.5,338.7 370.0,338.7 370.5,338.7 371.0,338.7 371.5,338.6 372.0,338.6 372.5,338.5 373.0,338.5 373.5,338.4 374.0,338.4 374.5,338.4 375.0,338.4 375.5,338.5 376.0,338.7 376.5,338.7 377.0,338.8 377.5,338.8 378.0,338.8 378.5,338.7 379.0,338.7 379.5,338.7 380.0,338.8 380.5,338.8 381.0,338.9 381.5,338.9 382.0,338.9 382.5,338.9 383.0,338.8 383.5,338.8 384.0,338.9 384.5,338.9 385.0,339.1 385.5,339.2 386.0,339.4 386.5,339.5 387.0,339.5 387.5,339.5 388.0,339.5 388.5,339.6 389.0,339.6 389.5,339.6 390.0,339.7 390.5,339.8 391.0,339.8 391.5,339.7 392.0,339.7 392.5,339.6 393.0,339.5 393.5,339.4 394.0,339.4 394.5,339.5 395.0,339.5 395.5,339.6 396.0,339.6 396.5,339.6 397.0,339.6 397.5,339.5 398.0,339.5 398.5,339.5 399.0,339.4 399.5,339.4 400.0,339.4 400.5,339.4 401.0,339.3 401.5,339.1 402.0,338.8 402.5,338.5 403.0,338.2 403.5,337.8 404.0,337.5 404.5,337.1 405.0,336.7 405.5,336.2 406.0,335.7 406.5,335.1 407.0,334.6 407.5,334.1 408.0,333.7 408.5,333.6 409.0,333.5 409.5,333.6 410.0,333.8 410.5,334.0 411.0,334.2 411.5,334.3 412.0,334.2 412.5,334.0 413.0,333.4 413.5,332.6 414.0,331.5 414.5,330.0 415.0,328.1 415.5,326.0 416.0,323.7 416.5,321.3 417.0,319.2 417.5,317.4 418.0,316.2 418.5,315.7 419.0,315.8 419.5,316.7 420.0,318.2 420.5,320.1 421.0,322.4 421.5,324.7 422.0,327.1 422.5,329.4 423.0,331.5 423.5,333.3 424.0,334.9 424.5,336.1 425.0,337.0 425.5,337.6 426.0,338.0 426.5,338.2 427.0,338.4 427.5,338.5 428.0,338.6 428.5,338.7 429.0,338.8 429.5,338.8 430.0,338.8 430.5,338.8 431.0,338.6 431.5,338.5 432.0,338.4 432.5,338.3 433.0,338.3 433.5,338.3 434.0,338.3 434.5,338.2 435.0,338.2 435.5,338.1" fill="none" stroke="#141414" stroke-width="1.1" stroke-linejoin="round"/>
<polyline points="340.0,251.1 340.5,251.1 341.0,251.0 341.5,250.9 342.0,250.9 342.5,250.8 343.0,250.6 343.5,250.5 344.0,250.3 344.5,250.0 345.0,249.8 345.5,249.4 346.0,249.0 346.5,248.6 347.0,248.0 347.5,247.4 348.0,246.7 348.5,245.9 349.0,245.0 349.5,244.0 350.0,242.9 350.5,241.8 351.0,240.5 351.5,239.2 352.0,237.8 352.5,236.4 353.0,235.0 353.5,233.6 354.0,232.2 354.5,230.9 355.0,229.6 355.5,228.5 356.0,227.5 356.5,226.6 357.0,225.9 357.5,225.4 358.0,225.1 358.5,225.0 359.0,225.1 359.5,225.4 360.0,225.9 360.5,226.6 361.0,227.5 361.5,228.5 362.0,229.6 362.5,230.9 363.0,232.2 363.5,233.6 364.0,235.0 364.5,236.4 365.0,237.8 365.5,239.2 366.0,240.5 366.5,241.8 367.0,242.9 367.5,244.0 368.0,245.0 368.5,245.9 369.0,246.7 369.5,247.4 370.0,248.0 370.5,248.6 371.0,249.0 371.5,249.4 372.0,249.8 372.5,250.0 373.0,250.3 373.5,250.5 374.0,250.6 374.5,250.8 375.0,250.9 375.5,250.9 376.0,251.0 376.5,251.1 377.0,251.1" fill="none" stroke="#555" stroke-width="0.8" stroke-dasharray="2,1.6"/>
<rect x="286" y="221.4" width="149.60000000000002" height="127.1" fill="none" stroke="#6e6e6e" stroke-width="1.3"/>
<g stroke="#555" stroke-width="0.9">
<line x1="282.3" y1="340.3" x2="286" y2="340.3"/>
<line x1="282.3" y1="305.5" x2="286" y2="305.5"/>
<line x1="282.3" y1="270.7" x2="286" y2="270.7"/>
<line x1="282.3" y1="235.9" x2="286" y2="235.9"/>
<line x1="319.2" y1="348.5" x2="319.2" y2="351.7"/>
<line x1="385.8" y1="348.5" x2="385.8" y2="351.7"/>
<line x1="310.3" y1="221.4" x2="310.3" y2="224.5"/>
<line x1="372.4" y1="221.4" x2="372.4" y2="224.5"/>
</g>
<text x="278.6" y="344.2" font-size="10.8" text-anchor="end">0.00</text>
<text x="278.6" y="309.4" font-size="10.8" text-anchor="end">0.05</text>
<text x="278.6" y="274.6" font-size="10.8" text-anchor="end">0.10</text>
<text x="278.6" y="239.8" font-size="10.8" text-anchor="end">0.15</text>
<text x="318.9" y="363.6" font-size="10.8" text-anchor="middle">−0.94</text>
<text x="385.4" y="363.6" font-size="10.8" text-anchor="middle">−0.90</text>
<text x="345.2" y="379.6" font-size="11.2" font-style="italic">V</text><text x="351.8" y="382.4" font-size="8">g</text><text x="358.6" y="379.6" font-size="11.2">(V)</text>
<text transform="translate(246.3,304.6) rotate(-90)" font-size="10.8"><tspan font-style="italic">G</tspan> (<tspan font-style="italic">e</tspan><tspan font-size="7.5" dy="-3.5">2</tspan><tspan dy="3.5" font-style="italic">/h</tspan>)</text>
<text x="439.8" y="236" font-size="11" font-style="italic">B</text><text x="447" y="240.6" font-size="8" font-style="italic">y</text>
<text x="439.7" y="255.4" font-size="10.9">0 T</text>
<text x="439.7" y="269.8" font-size="10.9">1 T</text>
<text x="439.7" y="284.2" font-size="10.9">2 T</text>
<text x="439.7" y="298.6" font-size="10.9">3 T</text>
<text x="439.7" y="313.0" font-size="10.9">4 T</text>
<text x="439.7" y="327.4" font-size="10.9">5 T</text>
<text x="439.7" y="341.8" font-size="10.9">6 T</text>
<text x="472" y="220.5" font-size="15" font-weight="bold">e</text>
<polyline points="536.1,222.9 537.1,224.8 538.1,226.6 539.1,228.4 540.1,230.1 541.1,231.8 542.1,233.4 543.1,235.0 544.1,236.5 545.1,238.0 546.1,239.4 547.1,240.8 548.1,242.1 549.2,243.4 550.2,244.6 551.2,245.7 552.2,246.9 553.2,247.9 554.2,248.9 555.2,249.9 556.2,250.8 557.2,251.7 558.2,252.5 559.2,253.3 560.2,254.0 561.2,254.6 562.2,255.2 563.2,255.8 564.2,256.3 565.2,256.8 566.2,257.2 567.2,257.5 568.2,257.8 569.2,258.1 570.2,258.3 571.2,258.4 572.2,258.5 573.2,258.6 574.2,258.6 575.2,258.5 576.2,258.4 577.2,258.3 578.2,258.1 579.2,257.8 580.2,257.5 581.2,257.2 582.2,256.8 583.2,256.3 584.2,255.8 585.2,255.2 586.2,254.6 587.2,254.0 588.2,253.3 589.2,252.5 590.2,251.7 591.2,250.8 592.2,249.9 593.2,248.9 594.2,247.9 595.2,246.9 596.2,245.7 597.2,244.6 598.2,243.4 599.3,242.1 600.3,240.8 601.3,239.4 602.3,238.0 603.3,236.5 604.3,235.0 605.3,233.4 606.3,231.8 607.3,230.1 608.3,228.4 609.3,226.6 610.3,224.8" fill="none" stroke="#5a5294" stroke-width="1.15" stroke-dasharray="2.5,1.9"/>
<polyline points="536.1,240.4 537.1,242.3 538.1,244.1 539.1,245.9 540.1,247.6 541.1,249.3 542.1,250.9 543.1,252.5 544.1,254.0 545.1,255.5 546.1,256.9 547.1,258.3 548.1,259.6 549.2,260.9 550.2,262.1 551.2,263.2 552.2,264.4 553.2,265.4 554.2,266.4 555.2,267.4 556.2,268.3 557.2,269.2 558.2,270.0 559.2,270.8 560.2,271.5 561.2,272.1 562.2,272.7 563.2,273.3 564.2,273.8 565.2,274.3 566.2,274.7 567.2,275.0 568.2,275.3 569.2,275.6 570.2,275.8 571.2,275.9 572.2,276.0 573.2,276.1 574.2,276.1 575.2,276.0 576.2,275.9 577.2,275.8 578.2,275.6 579.2,275.3 580.2,275.0 581.2,274.7 582.2,274.3 583.2,273.8 584.2,273.3 585.2,272.7 586.2,272.1 587.2,271.5 588.2,270.8 589.2,270.0 590.2,269.2 591.2,268.3 592.2,267.4 593.2,266.4 594.2,265.4 595.2,264.4 596.2,263.2 597.2,262.1 598.2,260.9 599.3,259.6 600.3,258.3 601.3,256.9 602.3,255.5 603.3,254.0 604.3,252.5 605.3,250.9 606.3,249.3 607.3,247.6 608.3,245.9 609.3,244.1 610.3,242.3" fill="none" stroke="#465a90" stroke-width="1.15" stroke-dasharray="2.5,1.9"/>
<polyline points="536.1,257.9 537.1,259.8 538.1,261.6 539.1,263.4 540.1,265.1 541.1,266.8 542.1,268.4 543.1,270.0 544.1,271.5 545.1,273.0 546.1,274.4 547.1,275.8 548.1,277.1 549.2,278.4 550.2,279.6 551.2,280.7 552.2,281.9 553.2,282.9 554.2,283.9 555.2,284.9 556.2,285.8 557.2,286.7 558.2,287.5 559.2,288.3 560.2,289.0 561.2,289.6 562.2,290.2 563.2,290.8 564.2,291.3 565.2,291.8 566.2,292.2 567.2,292.5 568.2,292.8 569.2,293.1 570.2,293.3 571.2,293.4 572.2,293.5 573.2,293.6 574.2,293.6 575.2,293.5 576.2,293.4 577.2,293.3 578.2,293.1 579.2,292.8 580.2,292.5 581.2,292.2 582.2,291.8 583.2,291.3 584.2,290.8 585.2,290.2 586.2,289.6 587.2,289.0 588.2,288.3 589.2,287.5 590.2,286.7 591.2,285.8 592.2,284.9 593.2,283.9 594.2,282.9 595.2,281.9 596.2,280.7 597.2,279.6 598.2,278.4 599.3,277.1 600.3,275.8 601.3,274.4 602.3,273.0 603.3,271.5 604.3,270.0 605.3,268.4 606.3,266.8 607.3,265.1 608.3,263.4 609.3,261.6 610.3,259.8" fill="none" stroke="#366e8c" stroke-width="1.15" stroke-dasharray="2.5,1.9"/>
<polyline points="536.1,275.4 537.1,277.3 538.1,279.1 539.1,280.9 540.1,282.6 541.1,284.3 542.1,285.9 543.1,287.5 544.1,289.0 545.1,290.5 546.1,291.9 547.1,293.3 548.1,294.6 549.2,295.9 550.2,297.1 551.2,298.2 552.2,299.4 553.2,300.4 554.2,301.4 555.2,302.4 556.2,303.3 557.2,304.2 558.2,305.0 559.2,305.8 560.2,306.5 561.2,307.1 562.2,307.7 563.2,308.3 564.2,308.8 565.2,309.3 566.2,309.7 567.2,310.0 568.2,310.3 569.2,310.6 570.2,310.8 571.2,310.9 572.2,311.0 573.2,311.1 574.2,311.1 575.2,311.0 576.2,310.9 577.2,310.8 578.2,310.6 579.2,310.3 580.2,310.0 581.2,309.7 582.2,309.3 583.2,308.8 584.2,308.3 585.2,307.7 586.2,307.1 587.2,306.5 588.2,305.8 589.2,305.0 590.2,304.2 591.2,303.3 592.2,302.4 593.2,301.4 594.2,300.4 595.2,299.4 596.2,298.2 597.2,297.1 598.2,295.9 599.3,294.6 600.3,293.3 601.3,291.9 602.3,290.5 603.3,289.0 604.3,287.5 605.3,285.9 606.3,284.3 607.3,282.6 608.3,280.9 609.3,279.1 610.3,277.3" fill="none" stroke="#33908b" stroke-width="1.15" stroke-dasharray="2.5,1.9"/>
<polyline points="536.1,292.9 537.1,294.8 538.1,296.6 539.1,298.4 540.1,300.1 541.1,301.8 542.1,303.4 543.1,305.0 544.1,306.5 545.1,308.0 546.1,309.4 547.1,310.8 548.1,312.1 549.2,313.4 550.2,314.6 551.2,315.7 552.2,316.9 553.2,317.9 554.2,318.9 555.2,319.9 556.2,320.8 557.2,321.7 558.2,322.5 559.2,323.3 560.2,324.0 561.2,324.6 562.2,325.2 563.2,325.8 564.2,326.3 565.2,326.8 566.2,327.2 567.2,327.5 568.2,327.8 569.2,328.1 570.2,328.3 571.2,328.4 572.2,328.5 573.2,328.6 574.2,328.6 575.2,328.5 576.2,328.4 577.2,328.3 578.2,328.1 579.2,327.8 580.2,327.5 581.2,327.2 582.2,326.8 583.2,326.3 584.2,325.8 585.2,325.2 586.2,324.6 587.2,324.0 588.2,323.3 589.2,322.5 590.2,321.7 591.2,320.8 592.2,319.9 593.2,318.9 594.2,317.9 595.2,316.9 596.2,315.7 597.2,314.6 598.2,313.4 599.3,312.1 600.3,310.8 601.3,309.4 602.3,308.0 603.3,306.5 604.3,305.0 605.3,303.4 606.3,301.8 607.3,300.1 608.3,298.4 609.3,296.6 610.3,294.8" fill="none" stroke="#5ab598" stroke-width="1.15" stroke-dasharray="2.5,1.9"/>
<polyline points="536.1,310.4 537.1,312.3 538.1,314.1 539.1,315.9 540.1,317.6 541.1,319.3 542.1,320.9 543.1,322.5 544.1,324.0 545.1,325.5 546.1,326.9 547.1,328.3 548.1,329.6 549.2,330.9 550.2,332.1 551.2,333.2 552.2,334.4 553.2,335.4 554.2,336.4 555.2,337.4 556.2,338.3 557.2,339.2 558.2,340.0 559.2,340.8 560.2,341.5 561.2,342.1 562.2,342.7 563.2,343.3 564.2,343.8 565.2,344.3 566.2,344.7 567.2,345.0 568.2,345.3 569.2,345.6 570.2,345.8 571.2,345.9 572.2,346.0 573.2,346.1 574.2,346.1 575.2,346.0 576.2,345.9 577.2,345.8 578.2,345.6 579.2,345.3 580.2,345.0 581.2,344.7 582.2,344.3 583.2,343.8 584.2,343.3 585.2,342.7 586.2,342.1 587.2,341.5 588.2,340.8 589.2,340.0 590.2,339.2 591.2,338.3 592.2,337.4 593.2,336.4 594.2,335.4 595.2,334.4 596.2,333.2 597.2,332.1 598.2,330.9 599.3,329.6 600.3,328.3 601.3,326.9 602.3,325.5 603.3,324.0 604.3,322.5 605.3,320.9 606.3,319.3 607.3,317.6 608.3,315.9 609.3,314.1 610.3,312.3" fill="none" stroke="#b6d468" stroke-width="1.15" stroke-dasharray="2.5,1.9"/>
<polyline points="499.0,324.1 500.0,325.3 501.0,326.5 502.0,327.6 503.0,328.7 504.0,329.7 505.0,330.7 506.0,331.6 507.0,332.4 508.0,333.3 509.0,334.0 510.0,334.7 511.0,335.4 512.0,336.0 513.0,336.6 514.0,337.1 515.0,337.5 516.0,338.0 517.0,338.3 518.0,338.6 519.0,338.9 520.0,339.1 521.0,339.2 522.0,339.3 523.0,339.4 524.0,339.4 525.1,339.3 526.1,339.2 527.1,339.1 528.1,338.9 529.1,338.6 530.1,338.3 531.1,338.0 532.1,337.6 533.1,337.1 534.1,336.6 535.1,336.1 536.1,335.5 537.1,334.8 538.1,334.1 539.1,333.3 540.1,332.5 541.1,331.7 542.1,330.8 543.1,329.8 544.1,328.8 545.1,327.7 546.1,326.6 547.1,325.4 548.1,324.2 549.1,322.9 550.1,321.6 551.1,320.3 552.1,318.8 553.1,317.4 554.1,315.9 555.1,314.3 556.1,312.7 557.1,311.0 558.1,309.3 559.1,307.5 560.1,305.7 561.1,303.8 562.1,301.9 563.1,299.9 564.1,297.8 565.1,295.8 566.1,293.6 567.1,291.4 568.1,289.2 569.1,286.9 570.1,284.6 571.1,282.2 572.1,279.8 573.1,277.3 574.2,274.8 575.2,272.2 576.2,269.5 577.2,266.8 578.2,264.1 579.2,261.3 580.2,258.5 581.2,255.6 582.2,252.6 583.2,249.6 584.2,246.6 585.2,243.5 586.2,240.3 587.2,237.1 588.2,233.9 589.2,230.6 590.2,227.2 591.2,223.8" fill="none" stroke="#1a1a1a" stroke-width="0.9"/>
<polyline points="555.5,221.4 556.5,224.8 557.5,228.2 558.5,231.6 559.5,234.8 560.5,238.1 561.5,241.3 562.5,244.4 563.5,247.5 564.5,250.5 565.5,253.5 566.5,256.4 567.5,259.3 568.5,262.1 569.5,264.9 570.5,267.6 571.5,270.3 572.5,272.9 573.5,275.5 574.5,278.0 575.5,280.5 576.5,282.9 577.5,285.3 578.6,287.6 579.6,289.9 580.6,292.1 581.6,294.3 582.6,296.4 583.6,298.4 584.6,300.5 585.6,302.4 586.6,304.3 587.6,306.2 588.6,308.0 589.6,309.8 590.6,311.5 591.6,313.1 592.6,314.7 593.6,316.3 594.6,317.8 595.6,319.3 596.6,320.7 597.6,322.0 598.6,323.3 599.6,324.6 600.6,325.8 601.6,326.9 602.6,328.0 603.6,329.1 604.6,330.1 605.6,331.0 606.6,331.9 607.6,332.8 608.6,333.6 609.6,334.3 610.6,335.0 611.6,335.6 612.6,336.2 613.6,336.8 614.6,337.3 615.6,337.7 616.6,338.1 617.6,338.4 618.6,338.7 619.6,339.0 620.6,339.1 621.6,339.3 622.6,339.4 623.6,339.4 624.6,339.4 625.6,339.3 626.6,339.2 627.6,339.0 628.7,338.8 629.7,338.5 630.7,338.2 631.7,337.8 632.7,337.4 633.7,336.9 634.7,336.4 635.7,335.8 636.7,335.2 637.7,334.5 638.7,333.8 639.7,333.0 640.7,332.2 641.7,331.3 642.7,330.4 643.7,329.4 644.7,328.4 645.7,327.3 646.7,326.1 647.7,325.0 648.7,323.7" fill="none" stroke="#1a1a1a" stroke-width="0.9"/>
<polyline points="545.6,221.4 546.6,222.8 547.6,224.1 548.6,225.4 549.6,226.7 550.6,227.9 551.6,229.0 552.6,230.1 553.6,231.2 554.6,232.2 555.6,233.1 556.6,234.0 557.6,234.8 558.6,235.6 559.6,236.4 560.6,237.1 561.6,237.7 562.6,238.3 563.6,238.8 564.6,239.3 565.6,239.7 566.6,240.1 567.6,240.5 568.6,240.7 569.6,241.0 570.6,241.2 571.6,241.3 572.6,241.4 573.6,241.4 574.6,241.4 575.6,241.3 576.6,241.2 577.6,241.0 578.6,240.8 579.7,240.5 580.7,240.2 581.7,239.8 582.7,239.4 583.7,238.9 584.7,238.4 585.7,237.8 586.7,237.1 587.7,236.5 588.7,235.7 589.7,234.9 590.7,234.1 591.7,233.2 592.7,232.3 593.7,231.3 594.7,230.3 595.7,229.2 596.7,228.0 597.7,226.8 598.7,225.6 599.7,224.3 600.7,223.0 601.7,221.6" fill="none" stroke="#1a1a1a" stroke-width="0.9"/>
<circle cx="566.7" cy="292.4" r="3.6" fill="#2d5e7e" stroke="#1a2a30" stroke-width="0.6"/>
<circle cx="580.7" cy="292.4" r="3.6" fill="#2d5e7e" stroke="#1a2a30" stroke-width="0.6"/>
<circle cx="559.8" cy="306.2" r="3.6" fill="#2a8a8b" stroke="#1a2a30" stroke-width="0.6"/>
<circle cx="587.6" cy="306.2" r="3.6" fill="#2a8a8b" stroke="#1a2a30" stroke-width="0.6"/>
<circle cx="552.9" cy="317.7" r="3.6" fill="#3fae88" stroke="#1a2a30" stroke-width="0.6"/>
<circle cx="594.5" cy="317.7" r="3.6" fill="#3fae88" stroke="#1a2a30" stroke-width="0.6"/>
<circle cx="546.0" cy="326.7" r="3.6" fill="#8cc843" stroke="#1a2a30" stroke-width="0.6"/>
<circle cx="601.4" cy="326.7" r="3.6" fill="#8cc843" stroke="#1a2a30" stroke-width="0.6"/>
<circle cx="573.7" cy="275.9" r="3.6" fill="#000"/>
<rect x="499" y="221.4" width="150" height="126.20000000000002" fill="none" stroke="#6e6e6e" stroke-width="1.3"/>
<g stroke="#555" stroke-width="0.9">
<line x1="523.6" y1="347.6" x2="523.6" y2="350.90000000000003"/><line x1="523.6" y1="221.4" x2="523.6" y2="224.5"/>
<line x1="573.7" y1="347.6" x2="573.7" y2="350.90000000000003"/><line x1="573.7" y1="221.4" x2="573.7" y2="224.5"/>
<line x1="623.8" y1="347.6" x2="623.8" y2="350.90000000000003"/><line x1="623.8" y1="221.4" x2="623.8" y2="224.5"/>
<line x1="495.5" y1="240.9" x2="499" y2="240.9"/><line x1="646" y1="240.9" x2="649" y2="240.9"/>
<line x1="495.5" y1="276.4" x2="499" y2="276.4"/><line x1="646" y1="276.4" x2="649" y2="276.4"/>
</g>
<text x="523.6" y="363.8" font-size="10.8" text-anchor="middle">0</text>
<text x="573.7" y="363.8" font-size="10.8" text-anchor="middle">1</text>
<text x="623.8" y="363.8" font-size="10.8" text-anchor="middle">2</text>
<text x="567.8" y="380" font-size="10.8" font-style="italic">N</text><text x="575.6" y="383" font-size="7.8">g</text>
<text transform="translate(483.6,304.6) rotate(-90)" font-size="10.8"><tspan font-style="italic">E</tspan><tspan font-size="7.8" dy="2.6">N</tspan><tspan dy="-2.6"> (</tspan><tspan font-style="italic">N</tspan><tspan font-size="7.8" dy="2.6">g</tspan><tspan dy="-2.6">)</tspan></text>
<text x="509.8" y="329.4" font-size="10.8"><tspan font-style="italic">N</tspan> = 0</text>
<text x="560.7" y="340.8" font-size="10.8"><tspan font-style="italic">N</tspan> = 1</text>
<text x="613.3" y="329.4" font-size="10.8"><tspan font-style="italic">N</tspan> = 2</text>
<text x="564.2" y="234.1" font-size="10.8" font-style="italic">E</text><text x="570.6" y="237.9" font-size="7.4" font-style="italic">z</text>
<g stroke="#000" stroke-width="0.9"><line x1="578.2" y1="232" x2="578.2" y2="238.8"/><line x1="578.2" y1="242.2" x2="578.2" y2="248.5"/></g><g stroke="#000" stroke-width="1.2"><line x1="655.8" y1="245" x2="655.8" y2="270"/><line x1="655.8" y1="281" x2="655.8" y2="333"/></g>
<path d="M576.2,233.2 L578.2,229 L580.2,233.2 Z" fill="#000"/><path d="M576.2,247.4 L578.2,251.6 L580.2,247.4 Z" fill="#000"/>
<path d="M653.1,247.1 L655.8,240.5 L658.5,247.1 Z" fill="#000"/><path d="M653.1,268.2 L655.8,274.8 L658.5,268.2 Z" fill="#000"/>
<path d="M653.1,283.1 L655.8,276.5 L658.5,283.1 Z" fill="#000"/><path d="M653.1,331.4 L655.8,338 L658.5,331.4 Z" fill="#000"/>
<text x="660.6" y="254.4" font-size="10.8">|<tspan font-style="italic">U</tspan>|</text>
<line x1="661.2" y1="258.8" x2="673.6" y2="258.8" stroke="#000" stroke-width="0.8"/>
<text x="666.8" y="272.8" font-size="10.8" text-anchor="middle">2</text>
<text x="660.2" y="305.4" font-size="10.8" font-style="italic">E</text><text x="666.6" y="307.9" font-size="7.8">C</text>
</svg></body></html>
